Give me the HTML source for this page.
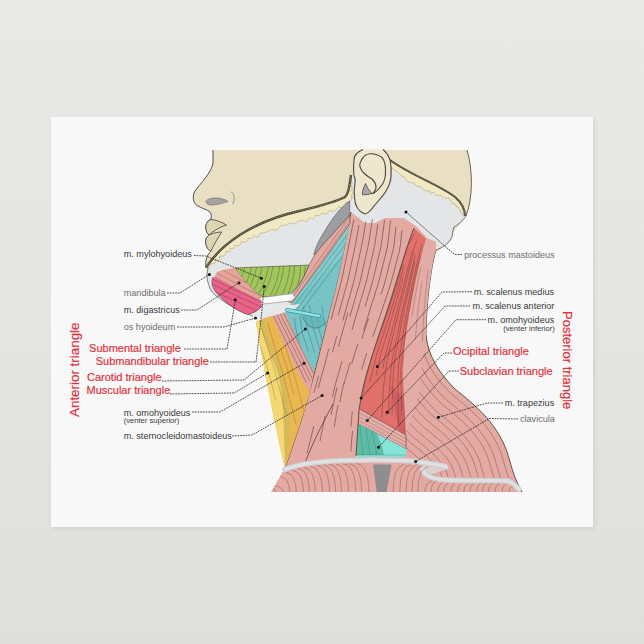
<!DOCTYPE html>
<html><head><meta charset="utf-8">
<style>
html,body{margin:0;padding:0;width:644px;height:644px;overflow:hidden;background:#e3e2df;}
svg{position:absolute;left:0;top:0;}
text{font-family:"Liberation Sans",sans-serif;}
</style></head><body>
<svg width="644" height="644" viewBox="0 0 644 644">
<defs>
<filter id="sh" x="-10%" y="-10%" width="120%" height="120%"><feGaussianBlur stdDeviation="2"/></filter>
<filter id="bl" x="-50%" y="-50%" width="200%" height="200%"><feGaussianBlur stdDeviation="6"/></filter>
</defs>
<linearGradient id="bgg" x1="0" y1="0" x2="0" y2="1"><stop offset="0" stop-color="#e9e9e7"/><stop offset="0.5" stop-color="#e5e5e3"/><stop offset="1" stop-color="#dededc"/></linearGradient><rect width="644" height="644" fill="url(#bgg)"/>

<rect x="52" y="119" width="543" height="410" fill="#c9c8c5" opacity="0.6" filter="url(#sh)"/>
<rect x="51" y="117" width="542" height="410" fill="#f8f8f8"/>

<g stroke-linejoin="round">
<!-- HEAD beige -->
<path d="M213,150 L213,163 C212,172 200,184 195,191 C192,196 193,203 197,205.5 C201,208 207,209.5 210,212 C211.5,214 211.5,217 211,219 C207,221 205,225 206,229 C206,232 208,234 209,235 C205,238 205,243 206.5,246 C207.5,249 209,250.5 211,251 C207,255 205,260 206,267.6 L210,290 L350,300 L440,250 L466,216 C473,198 473,170 467,150 Z" fill="#e9dfc2"/>
<path d="M213,150 L213,163 C212,172 200,184 195,191 C192,196 193,203 197,205.5 C201,208 207,209.5 210,212 C211.5,214 211.5,217 211,219 C207,221 205,225 206,229 C206,232 208,234 209,235 C205,238 205,243 206.5,246 C207.5,249 209,250.5 211,251 C207,255 205,260 206,267.6" fill="none" stroke="#55524a" stroke-width="1"/>
<path d="M467,150 C473,170 473,198 466,216" fill="none" stroke="#55524a" stroke-width="0.9"/>
<!-- lips -->
<path d="M211,219.5 C216,220 222,222 226.4,225 C220,227 213,231 209,235 C208,234 206,232 206,229 C205,225 207,221 211,219.5 Z" fill="#ddd6b2" stroke="#55524a" stroke-width="0.9"/>
<path d="M209,235 C213,233 218,232 221.7,232 C218,238 214,244 211,251 C209,250.5 207.5,249 206.5,246 C205,243 205,238 209,235 Z" fill="#ddd6b2" stroke="#55524a" stroke-width="0.9"/>
<!-- nostril -->
<path d="M206,201.6 C207,198.5 214,197 221,198.5 C225,199.5 228,201 228,201.6 C222,203 218,205 212,205 C208,205 206,203.5 206,201.6 Z" fill="#a3a3a3" stroke="#666" stroke-width="0.6"/>
<path d="M231,191.6 C235,195 235,200 232.6,204" fill="none" stroke="#777" stroke-width="0.7"/>

<!-- gray region below jaw & skull -->
<path d="M206,267.6 C220,246 250,222 299.4,211 C320,206 338,201 345,197 C348,194 349,190 351,175 L356,170 L390,160 C410,175 440,185 455,197 C462,203 465,210 465,216 C462,222 456,226 454,227 C452,232 453,236 451,239 C448,244 442,248 436,250 L420,300 L300,312 L258,318 C240,312 222,302 212,292 C206,282 206,272 209,266 Z" fill="#e3e5e7"/>
<path d="M466,216 C462,222 456,226 454,227 C452,232 453,236 451,239 C448,244 442,248 436,250" fill="none" stroke="#55524a" stroke-width="0.8"/>
<path d="M209,266 C206,272 206,282 212,292 C222,302 240,312 258,318" fill="none" stroke="#666" stroke-width="0.8"/>
<!-- cream bone bands -->
<path d="M206.0,267.6 L206.3,267.2 L206.5,266.8 L206.8,266.4 L207.1,266.0 L207.4,265.6 L207.6,265.2 L207.9,264.8 L208.2,264.3 L208.5,263.9 L208.8,263.5 L209.1,263.1 L209.4,262.7 L209.7,262.3 L210.0,261.9 L210.4,261.5 L210.7,261.1 L211.0,260.7 L211.3,260.2 L211.7,259.8 L212.0,259.4 L212.3,259.0 L212.7,258.6 L213.0,258.2 L213.4,257.8 L213.7,257.4 L214.1,256.9 L214.5,256.5 L214.8,256.1 L215.2,255.7 L215.6,255.3 L216.0,254.9 L216.3,254.5 L216.7,254.1 L217.1,253.7 L217.5,253.2 L217.9,252.8 L218.3,252.4 L218.7,252.0 L219.1,251.6 L219.6,251.2 L220.0,250.8 L220.4,250.4 L220.8,250.0 L221.3,249.6 L221.7,249.1 L222.1,248.7 L222.6,248.3 L223.0,247.9 L223.5,247.5 L223.9,247.1 L224.4,246.7 L224.8,246.3 L225.3,245.9 L225.8,245.5 L226.2,245.1 L226.7,244.7 L227.2,244.3 L227.7,243.9 L228.2,243.5 L228.7,243.1 L229.2,242.7 L229.7,242.3 L230.2,241.9 L230.7,241.5 L231.2,241.1 L231.7,240.7 L232.3,240.3 L232.8,239.9 L233.3,239.6 L233.8,239.2 L234.4,238.8 L234.9,238.4 L235.5,238.0 L236.0,237.6 L236.6,237.2 L237.1,236.8 L237.7,236.5 L238.3,236.1 L238.8,235.7 L239.4,235.3 L240.0,234.9 L240.6,234.6 L241.2,234.2 L241.8,233.8 L242.4,233.5 L243.0,233.1 L243.6,232.7 L244.2,232.3 L244.8,232.0 L245.4,231.6 L246.0,231.2 L246.7,230.9 L247.3,230.5 L247.9,230.2 L248.6,229.8 L249.2,229.5 L249.9,229.1 L250.5,228.7 L251.2,228.4 L251.8,228.0 L252.5,227.7 L253.2,227.4 L253.8,227.0 L254.5,226.7 L255.2,226.3 L255.9,226.0 L256.6,225.7 L257.3,225.3 L258.0,225.0 L258.7,224.7 L259.4,224.3 L260.1,224.0 L260.8,223.7 L261.5,223.3 L262.2,223.0 L263.0,222.7 L263.7,222.4 L264.4,222.1 L265.2,221.8 L265.9,221.4 L266.7,221.1 L267.4,220.8 L268.2,220.5 L269.0,220.2 L269.7,219.9 L270.5,219.6 L271.3,219.3 L272.1,219.0 L272.8,218.7 L273.6,218.5 L274.4,218.2 L275.2,217.9 L276.0,217.6 L276.8,217.3 L277.7,217.0 L278.5,216.8 L279.3,216.5 L280.1,216.2 L280.9,216.0 L281.8,215.7 L282.6,215.4 L283.5,215.2 L284.3,214.9 L285.2,214.7 L286.0,214.4 L286.9,214.2 L287.7,213.9 L288.6,213.7 L289.5,213.4 L290.4,213.2 L291.2,213.0 L292.1,212.7 L293.0,212.5 L293.9,212.3 L294.8,212.1 L295.7,211.8 L296.6,211.6 L297.6,211.4 L298.5,211.2 L299.4,211.0 L301.7,221.5 L300.7,221.2 L299.7,220.8 L298.7,220.5 L298.0,221.4 L297.3,222.2 L296.6,222.9 L295.8,223.4 L295.0,223.7 L294.1,223.9 L293.2,223.8 L292.3,223.6 L291.3,223.3 L290.3,222.9 L289.4,223.0 L288.7,223.6 L287.9,224.1 L287.2,224.6 L286.4,225.0 L285.6,225.2 L284.8,225.4 L284.0,225.5 L283.1,225.5 L282.2,225.5 L281.4,225.4 L280.7,225.9 L280.1,226.8 L279.5,227.5 L278.9,228.2 L278.2,228.8 L277.6,229.3 L276.9,229.7 L276.1,229.9 L275.3,230.0 L274.5,230.1 L273.6,230.0 L272.8,229.9 L271.8,229.7 L270.9,229.4 L270.2,229.6 L269.6,230.2 L268.9,230.7 L268.3,231.1 L267.6,231.5 L267.0,231.9 L266.3,232.2 L265.6,232.4 L264.8,232.6 L264.1,232.7 L263.3,232.8 L262.5,232.9 L261.7,232.9 L260.9,232.9 L260.3,233.3 L260.0,234.3 L259.6,235.2 L259.2,236.0 L258.7,236.5 L258.0,236.8 L257.2,236.8 L256.3,236.6 L255.3,236.2 L254.3,235.7 L253.6,236.1 L253.4,237.0 L253.0,237.8 L252.5,238.3 L251.8,238.5 L251.0,238.5 L250.1,238.2 L249.1,237.9 L248.5,238.3 L248.2,239.0 L247.9,239.8 L247.5,240.4 L247.0,240.9 L246.5,241.4 L245.9,241.7 L245.2,241.9 L244.5,241.9 L243.7,241.9 L242.9,241.9 L242.0,241.7 L241.2,241.6 L241.0,242.4 L240.8,243.3 L240.5,244.1 L240.2,244.7 L239.8,245.2 L239.2,245.5 L238.6,245.7 L237.8,245.7 L237.0,245.6 L236.0,245.4 L235.1,245.2 L234.7,245.8 L234.6,246.5 L234.3,247.2 L234.0,247.8 L233.5,248.2 L233.0,248.4 L232.2,248.5 L231.4,248.5 L230.6,248.3 L229.9,248.5 L230.0,249.6 L230.0,250.5 L229.9,251.2 L229.5,251.6 L228.9,251.8 L228.0,251.8 L227.1,251.5 L226.0,251.2 L225.7,251.8 L225.7,252.6 L225.6,253.3 L225.5,254.0 L225.3,254.6 L225.0,255.1 L224.6,255.5 L224.1,255.8 L223.5,256.0 L222.8,256.1 L222.0,256.1 L221.2,256.0 L220.3,256.0 L219.5,256.0 L219.7,256.9 L219.8,257.7 L219.9,258.5 L219.8,259.2 L219.6,259.7 L219.3,260.1 L218.8,260.4 L218.2,260.5 L217.4,260.5 L216.5,260.5 L215.6,260.4 L214.6,260.2 L214.8,261.0 L215.0,261.8 L215.0,262.5 L214.9,263.1 L214.6,263.5 L214.0,263.7 L213.3,263.8 L212.4,263.7 L211.5,263.6 L211.0,263.9 L210.9,264.5 L210.8,265.0 L210.7,265.5 L210.5,266.0 L210.2,266.4 L209.9,266.7 L209.5,267.0 L209.1,267.3 L208.5,267.6 L208.0,267.8 L207.4,268.0 L206.8,268.1 Z" fill="#f1e9c4"/><path d="M206.8,268.1 L207.4,268.0 L208.0,267.8 L208.5,267.6 L209.1,267.3 L209.5,267.0 L209.9,266.7 L210.2,266.4 L210.5,266.0 L210.7,265.5 L210.8,265.0 L210.9,264.5 L211.0,263.9 L211.5,263.6 L212.4,263.7 L213.3,263.8 L214.0,263.7 L214.6,263.5 L214.9,263.1 L215.0,262.5 L215.0,261.8 L214.8,261.0 L214.6,260.2 L215.6,260.4 L216.5,260.5 L217.4,260.5 L218.2,260.5 L218.8,260.4 L219.3,260.1 L219.6,259.7 L219.8,259.2 L219.9,258.5 L219.8,257.7 L219.7,256.9 L219.5,256.0 L220.3,256.0 L221.2,256.0 L222.0,256.1 L222.8,256.1 L223.5,256.0 L224.1,255.8 L224.6,255.5 L225.0,255.1 L225.3,254.6 L225.5,254.0 L225.6,253.3 L225.7,252.6 L225.7,251.8 L226.0,251.2 L227.1,251.5 L228.0,251.8 L228.9,251.8 L229.5,251.6 L229.9,251.2 L230.0,250.5 L230.0,249.6 L229.9,248.5 L230.6,248.3 L231.4,248.5 L232.2,248.5 L233.0,248.4 L233.5,248.2 L234.0,247.8 L234.3,247.2 L234.6,246.5 L234.7,245.8 L235.1,245.2 L236.0,245.4 L237.0,245.6 L237.8,245.7 L238.6,245.7 L239.2,245.5 L239.8,245.2 L240.2,244.7 L240.5,244.1 L240.8,243.3 L241.0,242.4 L241.2,241.6 L242.0,241.7 L242.9,241.9 L243.7,241.9 L244.5,241.9 L245.2,241.9 L245.9,241.7 L246.5,241.4 L247.0,240.9 L247.5,240.4 L247.9,239.8 L248.2,239.0 L248.5,238.3 L249.1,237.9 L250.1,238.2 L251.0,238.5 L251.8,238.5 L252.5,238.3 L253.0,237.8 L253.4,237.0 L253.6,236.1 L254.3,235.7 L255.3,236.2 L256.3,236.6 L257.2,236.8 L258.0,236.8 L258.7,236.5 L259.2,236.0 L259.6,235.2 L260.0,234.3 L260.3,233.3 L260.9,232.9 L261.7,232.9 L262.5,232.9 L263.3,232.8 L264.1,232.7 L264.8,232.6 L265.6,232.4 L266.3,232.2 L267.0,231.9 L267.6,231.5 L268.3,231.1 L268.9,230.7 L269.6,230.2 L270.2,229.6 L270.9,229.4 L271.8,229.7 L272.8,229.9 L273.6,230.0 L274.5,230.1 L275.3,230.0 L276.1,229.9 L276.9,229.7 L277.6,229.3 L278.2,228.8 L278.9,228.2 L279.5,227.5 L280.1,226.8 L280.7,225.9 L281.4,225.4 L282.2,225.5 L283.1,225.5 L284.0,225.5 L284.8,225.4 L285.6,225.2 L286.4,225.0 L287.2,224.6 L287.9,224.1 L288.7,223.6 L289.4,223.0 L290.3,222.9 L291.3,223.3 L292.3,223.6 L293.2,223.8 L294.1,223.9 L295.0,223.7 L295.8,223.4 L296.6,222.9 L297.3,222.2 L298.0,221.4 L298.7,220.5 L299.7,220.8 L300.7,221.2 L301.7,221.5" fill="none" stroke="#a99f62" stroke-width="0.55"/><path d="M299.4,211.0 L299.8,210.9 L300.2,210.8 L300.6,210.7 L300.9,210.6 L301.3,210.5 L301.7,210.4 L302.1,210.3 L302.5,210.3 L302.9,210.2 L303.2,210.1 L303.6,210.0 L304.0,209.9 L304.4,209.8 L304.7,209.7 L305.1,209.6 L305.5,209.5 L305.9,209.4 L306.2,209.3 L306.6,209.2 L307.0,209.1 L307.4,209.0 L307.7,208.9 L308.1,208.8 L308.5,208.8 L308.8,208.7 L309.2,208.6 L309.6,208.5 L309.9,208.4 L310.3,208.3 L310.7,208.2 L311.0,208.1 L311.4,208.0 L311.7,207.9 L312.1,207.8 L312.5,207.7 L312.8,207.6 L313.2,207.5 L313.5,207.5 L313.9,207.4 L314.2,207.3 L314.6,207.2 L314.9,207.1 L315.3,207.0 L315.6,206.9 L316.0,206.8 L316.3,206.7 L316.7,206.6 L317.0,206.5 L317.4,206.4 L317.7,206.3 L318.0,206.3 L318.4,206.2 L318.7,206.1 L319.0,206.0 L319.4,205.9 L319.7,205.8 L320.0,205.7 L320.4,205.6 L320.7,205.5 L321.0,205.4 L321.4,205.3 L321.7,205.2 L322.0,205.2 L322.3,205.1 L322.7,205.0 L323.0,204.9 L323.3,204.8 L323.6,204.7 L323.9,204.6 L324.2,204.5 L324.6,204.4 L324.9,204.3 L325.2,204.3 L325.5,204.2 L325.8,204.1 L326.1,204.0 L326.4,203.9 L326.7,203.8 L327.0,203.7 L327.3,203.6 L327.6,203.5 L327.9,203.4 L328.2,203.4 L328.5,203.3 L328.8,203.2 L329.1,203.1 L329.3,203.0 L329.6,202.9 L329.9,202.8 L330.2,202.7 L330.5,202.7 L330.8,202.6 L331.0,202.5 L331.3,202.4 L331.6,202.3 L331.9,202.2 L332.1,202.1 L332.4,202.0 L332.7,202.0 L332.9,201.9 L333.2,201.8 L333.5,201.7 L333.7,201.6 L334.0,201.5 L334.2,201.4 L334.5,201.4 L334.7,201.3 L335.0,201.2 L335.2,201.1 L335.5,201.0 L335.7,200.9 L336.0,200.8 L336.2,200.8 L336.4,200.7 L336.7,200.6 L336.9,200.5 L337.1,200.4 L337.4,200.3 L337.6,200.3 L337.8,200.2 L338.0,200.1 L338.3,200.0 L338.5,199.9 L338.7,199.8 L338.9,199.8 L339.1,199.7 L339.3,199.6 L339.5,199.5 L339.8,199.4 L340.0,199.3 L340.2,199.3 L340.4,199.2 L340.6,199.1 L340.8,199.0 L340.9,198.9 L341.1,198.9 L341.3,198.8 L341.5,198.7 L341.7,198.6 L341.9,198.5 L342.1,198.5 L342.2,198.4 L342.4,198.3 L342.6,198.2 L342.7,198.2 L342.9,198.1 L343.1,198.0 L343.2,197.9 L343.4,197.8 L343.6,197.8 L343.7,197.7 L343.9,197.6 L344.0,197.5 L344.2,197.5 L344.3,197.4 L344.5,197.3 L344.6,197.2 L344.7,197.2 L344.9,197.1 L345.0,197.0 L348.0,202.2 L347.7,202.2 L347.5,202.2 L347.3,202.2 L347.1,202.2 L346.9,202.2 L346.6,202.2 L346.4,202.2 L346.3,202.3 L346.2,202.6 L346.1,202.9 L346.0,203.2 L345.9,203.5 L345.8,203.8 L345.7,204.0 L345.6,204.3 L345.5,204.6 L345.4,204.9 L345.3,205.1 L345.1,205.4 L345.0,205.6 L344.9,205.9 L344.7,206.1 L344.5,206.3 L344.4,206.5 L344.2,206.7 L344.0,206.9 L343.8,207.0 L343.6,207.2 L343.4,207.3 L343.2,207.4 L343.0,207.5 L342.7,207.6 L342.5,207.6 L342.2,207.6 L342.0,207.7 L341.7,207.6 L341.4,207.6 L341.1,207.6 L340.8,207.5 L340.5,207.4 L340.2,207.3 L339.9,207.2 L339.6,207.1 L339.2,207.0 L338.9,206.8 L338.6,206.7 L338.3,206.6 L338.1,206.9 L337.9,207.2 L337.7,207.5 L337.5,207.8 L337.4,208.1 L337.2,208.4 L337.0,208.7 L336.8,209.0 L336.6,209.2 L336.3,209.5 L336.1,209.7 L335.9,210.0 L335.6,210.2 L335.4,210.3 L335.1,210.5 L334.9,210.7 L334.6,210.8 L334.3,210.9 L334.0,211.0 L333.7,211.0 L333.4,211.1 L333.1,211.1 L332.8,211.1 L332.5,211.1 L332.1,211.0 L331.8,211.0 L331.5,210.9 L331.1,210.8 L330.7,210.7 L330.4,210.6 L330.0,210.5 L329.7,210.4 L329.3,210.4 L329.1,210.8 L328.9,211.1 L328.6,211.5 L328.4,211.8 L328.2,212.1 L327.9,212.5 L327.6,212.7 L327.4,213.0 L327.1,213.2 L326.8,213.4 L326.5,213.6 L326.2,213.7 L325.9,213.8 L325.5,213.9 L325.2,213.9 L324.8,213.9 L324.5,213.8 L324.1,213.8 L323.7,213.7 L323.3,213.6 L322.9,213.4 L322.5,213.3 L322.1,213.1 L321.8,213.3 L321.5,213.6 L321.2,214.0 L320.9,214.3 L320.7,214.6 L320.4,214.9 L320.1,215.1 L319.7,215.3 L319.4,215.5 L319.1,215.6 L318.7,215.6 L318.3,215.7 L318.0,215.7 L317.6,215.6 L317.2,215.5 L316.8,215.4 L316.4,215.3 L315.9,215.2 L315.6,215.5 L315.4,216.1 L315.1,216.6 L314.9,217.1 L314.6,217.5 L314.3,217.9 L314.0,218.2 L313.7,218.5 L313.4,218.7 L313.0,218.8 L312.6,218.8 L312.2,218.8 L311.8,218.7 L311.3,218.5 L310.9,218.3 L310.4,218.0 L310.0,217.7 L309.5,217.4 L309.1,217.6 L308.9,218.2 L308.6,218.7 L308.3,219.2 L308.0,219.7 L307.7,220.1 L307.4,220.5 L307.1,220.8 L306.8,221.1 L306.4,221.3 L306.0,221.5 L305.7,221.5 L305.2,221.5 L304.8,221.5 L304.4,221.4 L303.9,221.2 L303.5,221.0 L303.0,220.7 L302.5,220.4 L302.0,220.1 L301.5,219.7 Z" fill="#f1e9c4"/><path d="M301.5,219.7 L302.0,220.1 L302.5,220.4 L303.0,220.7 L303.5,221.0 L303.9,221.2 L304.4,221.4 L304.8,221.5 L305.2,221.5 L305.7,221.5 L306.0,221.5 L306.4,221.3 L306.8,221.1 L307.1,220.8 L307.4,220.5 L307.7,220.1 L308.0,219.7 L308.3,219.2 L308.6,218.7 L308.9,218.2 L309.1,217.6 L309.5,217.4 L310.0,217.7 L310.4,218.0 L310.9,218.3 L311.3,218.5 L311.8,218.7 L312.2,218.8 L312.6,218.8 L313.0,218.8 L313.4,218.7 L313.7,218.5 L314.0,218.2 L314.3,217.9 L314.6,217.5 L314.9,217.1 L315.1,216.6 L315.4,216.1 L315.6,215.5 L315.9,215.2 L316.4,215.3 L316.8,215.4 L317.2,215.5 L317.6,215.6 L318.0,215.7 L318.3,215.7 L318.7,215.6 L319.1,215.6 L319.4,215.5 L319.7,215.3 L320.1,215.1 L320.4,214.9 L320.7,214.6 L320.9,214.3 L321.2,214.0 L321.5,213.6 L321.8,213.3 L322.1,213.1 L322.5,213.3 L322.9,213.4 L323.3,213.6 L323.7,213.7 L324.1,213.8 L324.5,213.8 L324.8,213.9 L325.2,213.9 L325.5,213.9 L325.9,213.8 L326.2,213.7 L326.5,213.6 L326.8,213.4 L327.1,213.2 L327.4,213.0 L327.6,212.7 L327.9,212.5 L328.2,212.1 L328.4,211.8 L328.6,211.5 L328.9,211.1 L329.1,210.8 L329.3,210.4 L329.7,210.4 L330.0,210.5 L330.4,210.6 L330.7,210.7 L331.1,210.8 L331.5,210.9 L331.8,211.0 L332.1,211.0 L332.5,211.1 L332.8,211.1 L333.1,211.1 L333.4,211.1 L333.7,211.0 L334.0,211.0 L334.3,210.9 L334.6,210.8 L334.9,210.7 L335.1,210.5 L335.4,210.3 L335.6,210.2 L335.9,210.0 L336.1,209.7 L336.3,209.5 L336.6,209.2 L336.8,209.0 L337.0,208.7 L337.2,208.4 L337.4,208.1 L337.5,207.8 L337.7,207.5 L337.9,207.2 L338.1,206.9 L338.3,206.6 L338.6,206.7 L338.9,206.8 L339.2,207.0 L339.6,207.1 L339.9,207.2 L340.2,207.3 L340.5,207.4 L340.8,207.5 L341.1,207.6 L341.4,207.6 L341.7,207.6 L342.0,207.7 L342.2,207.6 L342.5,207.6 L342.7,207.6 L343.0,207.5 L343.2,207.4 L343.4,207.3 L343.6,207.2 L343.8,207.0 L344.0,206.9 L344.2,206.7 L344.4,206.5 L344.5,206.3 L344.7,206.1 L344.9,205.9 L345.0,205.6 L345.1,205.4 L345.3,205.1 L345.4,204.9 L345.5,204.6 L345.6,204.3 L345.7,204.0 L345.8,203.8 L345.9,203.5 L346.0,203.2 L346.1,202.9 L346.2,202.6 L346.3,202.3 L346.4,202.2 L346.6,202.2 L346.9,202.2 L347.1,202.2 L347.3,202.2 L347.5,202.2 L347.7,202.2 L348.0,202.2" fill="none" stroke="#a99f62" stroke-width="0.55"/><path d="M345.0,197.0 L345.1,196.9 L345.1,196.9 L345.2,196.8 L345.2,196.8 L345.3,196.7 L345.3,196.7 L345.4,196.6 L345.4,196.5 L345.5,196.5 L345.5,196.4 L345.6,196.4 L345.6,196.3 L345.7,196.2 L345.7,196.2 L345.8,196.1 L345.8,196.1 L345.9,196.0 L345.9,195.9 L346.0,195.9 L346.0,195.8 L346.1,195.8 L346.1,195.7 L346.2,195.6 L346.2,195.6 L346.3,195.5 L346.3,195.4 L346.4,195.4 L346.4,195.3 L346.4,195.2 L346.5,195.2 L346.5,195.1 L346.6,195.0 L346.6,195.0 L346.7,194.9 L346.7,194.8 L346.7,194.8 L346.8,194.7 L346.8,194.6 L346.9,194.6 L346.9,194.5 L346.9,194.4 L347.0,194.3 L347.0,194.3 L347.1,194.2 L347.1,194.1 L347.1,194.0 L347.2,194.0 L347.2,193.9 L347.3,193.8 L347.3,193.7 L347.3,193.7 L347.4,193.6 L347.4,193.5 L347.4,193.4 L347.5,193.3 L347.5,193.3 L347.5,193.2 L347.6,193.1 L347.6,193.0 L347.6,192.9 L347.7,192.9 L347.7,192.8 L347.7,192.7 L347.8,192.6 L347.8,192.5 L347.8,192.4 L347.9,192.3 L347.9,192.2 L347.9,192.2 L348.0,192.1 L348.0,192.0 L348.0,191.9 L348.0,191.8 L348.1,191.7 L348.1,191.6 L348.1,191.5 L348.2,191.4 L348.2,191.3 L348.2,191.2 L348.2,191.1 L348.3,191.0 L348.3,190.9 L348.3,190.8 L348.4,190.7 L348.4,190.6 L348.4,190.5 L348.4,190.4 L348.5,190.3 L348.5,190.2 L348.5,190.1 L348.5,190.0 L348.6,189.9 L348.6,189.8 L348.6,189.7 L348.6,189.6 L348.7,189.4 L348.7,189.3 L348.7,189.2 L348.7,189.1 L348.8,189.0 L348.8,188.9 L348.8,188.7 L348.8,188.6 L348.9,188.5 L348.9,188.4 L348.9,188.3 L348.9,188.1 L349.0,188.0 L349.0,187.9 L349.0,187.8 L349.0,187.6 L349.0,187.5 L349.1,187.4 L349.1,187.3 L349.1,187.1 L349.1,187.0 L349.2,186.9 L349.2,186.7 L349.2,186.6 L349.2,186.5 L349.2,186.3 L349.3,186.2 L349.3,186.0 L349.3,185.9 L349.3,185.8 L349.3,185.6 L349.4,185.5 L349.4,185.3 L349.4,185.2 L349.4,185.0 L349.4,184.9 L349.5,184.7 L349.5,184.6 L349.5,184.4 L349.5,184.3 L349.5,184.1 L349.6,184.0 L349.6,183.8 L349.6,183.6 L349.6,183.5 L349.6,183.3 L349.7,183.2 L349.7,183.0 L349.7,182.8 L349.7,182.7 L349.7,182.5 L349.8,182.3 L349.8,182.2 L349.8,182.0 L349.8,181.8 L349.8,181.6 L349.8,181.5 L349.9,181.3 L349.9,181.1 L349.9,180.9 L349.9,180.7 L349.9,180.6 L350.0,180.4 L350.0,180.2 L350.0,180.0 L351.5,180.1 L351.3,180.3 L351.2,180.5 L351.1,180.7 L351.1,180.9 L351.2,181.1 L351.4,181.3 L351.5,181.4 L351.6,181.6 L351.7,181.8 L351.8,182.0 L351.8,182.2 L351.9,182.4 L352.0,182.6 L352.0,182.7 L352.1,182.9 L352.1,183.1 L352.1,183.3 L352.1,183.4 L352.1,183.6 L352.1,183.8 L352.0,183.9 L352.0,184.1 L352.0,184.3 L351.9,184.4 L351.9,184.6 L351.8,184.7 L351.7,184.9 L351.6,185.0 L351.6,185.2 L351.5,185.3 L351.4,185.4 L351.4,185.6 L351.4,185.8 L351.5,185.9 L351.6,186.1 L351.6,186.2 L351.7,186.4 L351.7,186.5 L351.8,186.7 L351.8,186.9 L351.9,187.0 L351.9,187.2 L352.0,187.3 L352.0,187.5 L352.0,187.6 L352.0,187.8 L352.1,187.9 L352.1,188.0 L352.1,188.2 L352.1,188.3 L352.1,188.5 L352.1,188.6 L352.1,188.7 L352.1,188.9 L352.1,189.0 L352.1,189.1 L352.1,189.3 L352.0,189.4 L352.0,189.5 L352.0,189.6 L352.0,189.8 L351.9,189.9 L351.9,190.0 L351.9,190.1 L351.8,190.3 L351.8,190.4 L351.8,190.5 L351.7,190.6 L351.7,190.7 L351.7,190.9 L351.6,191.0 L351.7,191.1 L351.9,191.3 L352.0,191.4 L352.1,191.6 L352.2,191.7 L352.3,191.9 L352.4,192.1 L352.5,192.2 L352.5,192.4 L352.6,192.5 L352.7,192.6 L352.7,192.8 L352.8,192.9 L352.8,193.1 L352.8,193.2 L352.8,193.3 L352.8,193.4 L352.8,193.6 L352.8,193.7 L352.7,193.8 L352.7,193.9 L352.6,194.0 L352.6,194.1 L352.5,194.2 L352.4,194.3 L352.3,194.4 L352.3,194.5 L352.2,194.6 L352.1,194.7 L352.0,194.8 L351.9,194.9 L351.8,195.0 L351.6,195.0 L351.5,195.1 L351.4,195.2 L351.4,195.3 L351.4,195.5 L351.5,195.6 L351.5,195.8 L351.6,195.9 L351.6,196.1 L351.7,196.2 L351.7,196.4 L351.7,196.5 L351.8,196.6 L351.8,196.8 L351.8,196.9 L351.8,197.1 L351.8,197.2 L351.9,197.4 L351.9,197.5 L351.9,197.7 L351.9,197.8 L351.9,197.9 L351.8,198.1 L351.8,198.2 L351.8,198.3 L351.8,198.5 L351.7,198.6 L351.7,198.7 L351.7,198.9 L351.6,199.0 L351.6,199.1 L351.5,199.2 L351.5,199.3 L351.4,199.4 L351.3,199.5 L351.3,199.6 L351.2,199.8 L351.1,199.9 L351.1,199.9 L351.0,200.0 L350.9,200.1 L350.8,200.2 L350.7,200.3 L350.6,200.4 L350.5,200.5 L350.4,200.5 L350.3,200.6 L350.2,200.7 L350.1,200.8 L350.0,200.8 L349.9,200.9 L349.8,201.0 L349.7,201.0 L349.6,201.1 L349.5,201.1 L349.4,201.2 L349.2,201.2 Z" fill="#f1e9c4"/><path d="M349.2,201.2 L349.4,201.2 L349.5,201.1 L349.6,201.1 L349.7,201.0 L349.8,201.0 L349.9,200.9 L350.0,200.8 L350.1,200.8 L350.2,200.7 L350.3,200.6 L350.4,200.5 L350.5,200.5 L350.6,200.4 L350.7,200.3 L350.8,200.2 L350.9,200.1 L351.0,200.0 L351.1,199.9 L351.1,199.9 L351.2,199.8 L351.3,199.6 L351.3,199.5 L351.4,199.4 L351.5,199.3 L351.5,199.2 L351.6,199.1 L351.6,199.0 L351.7,198.9 L351.7,198.7 L351.7,198.6 L351.8,198.5 L351.8,198.3 L351.8,198.2 L351.8,198.1 L351.9,197.9 L351.9,197.8 L351.9,197.7 L351.9,197.5 L351.9,197.4 L351.8,197.2 L351.8,197.1 L351.8,196.9 L351.8,196.8 L351.8,196.6 L351.7,196.5 L351.7,196.4 L351.7,196.2 L351.6,196.1 L351.6,195.9 L351.5,195.8 L351.5,195.6 L351.4,195.5 L351.4,195.3 L351.4,195.2 L351.5,195.1 L351.6,195.0 L351.8,195.0 L351.9,194.9 L352.0,194.8 L352.1,194.7 L352.2,194.6 L352.3,194.5 L352.3,194.4 L352.4,194.3 L352.5,194.2 L352.6,194.1 L352.6,194.0 L352.7,193.9 L352.7,193.8 L352.8,193.7 L352.8,193.6 L352.8,193.4 L352.8,193.3 L352.8,193.2 L352.8,193.1 L352.8,192.9 L352.7,192.8 L352.7,192.6 L352.6,192.5 L352.5,192.4 L352.5,192.2 L352.4,192.1 L352.3,191.9 L352.2,191.7 L352.1,191.6 L352.0,191.4 L351.9,191.3 L351.7,191.1 L351.6,191.0 L351.7,190.9 L351.7,190.7 L351.7,190.6 L351.8,190.5 L351.8,190.4 L351.8,190.3 L351.9,190.1 L351.9,190.0 L351.9,189.9 L352.0,189.8 L352.0,189.6 L352.0,189.5 L352.0,189.4 L352.1,189.3 L352.1,189.1 L352.1,189.0 L352.1,188.9 L352.1,188.7 L352.1,188.6 L352.1,188.5 L352.1,188.3 L352.1,188.2 L352.1,188.0 L352.1,187.9 L352.0,187.8 L352.0,187.6 L352.0,187.5 L352.0,187.3 L351.9,187.2 L351.9,187.0 L351.8,186.9 L351.8,186.7 L351.7,186.5 L351.7,186.4 L351.6,186.2 L351.6,186.1 L351.5,185.9 L351.4,185.8 L351.4,185.6 L351.4,185.4 L351.5,185.3 L351.6,185.2 L351.6,185.0 L351.7,184.9 L351.8,184.7 L351.9,184.6 L351.9,184.4 L352.0,184.3 L352.0,184.1 L352.0,183.9 L352.1,183.8 L352.1,183.6 L352.1,183.4 L352.1,183.3 L352.1,183.1 L352.1,182.9 L352.0,182.7 L352.0,182.6 L351.9,182.4 L351.8,182.2 L351.8,182.0 L351.7,181.8 L351.6,181.6 L351.5,181.4 L351.4,181.3 L351.2,181.1 L351.1,180.9 L351.1,180.7 L351.2,180.5 L351.3,180.3 L351.5,180.1" fill="none" stroke="#a99f62" stroke-width="0.55"/><path d="M392.0,162.0 L392.4,162.3 L392.8,162.6 L393.1,162.8 L393.5,163.1 L393.9,163.4 L394.3,163.7 L394.7,163.9 L395.1,164.2 L395.4,164.5 L395.8,164.7 L396.2,165.0 L396.6,165.3 L397.0,165.5 L397.4,165.8 L397.8,166.1 L398.2,166.3 L398.6,166.6 L399.0,166.8 L399.4,167.1 L399.8,167.4 L400.2,167.6 L400.6,167.9 L401.1,168.1 L401.5,168.4 L401.9,168.6 L402.3,168.9 L402.7,169.1 L403.1,169.4 L403.5,169.6 L404.0,169.9 L404.4,170.1 L404.8,170.3 L405.2,170.6 L405.6,170.8 L406.1,171.1 L406.5,171.3 L406.9,171.5 L407.3,171.8 L407.7,172.0 L408.2,172.2 L408.6,172.5 L409.0,172.7 L409.5,172.9 L409.9,173.2 L410.3,173.4 L410.7,173.6 L411.2,173.9 L411.6,174.1 L412.0,174.3 L412.5,174.5 L412.9,174.8 L413.3,175.0 L413.7,175.2 L414.2,175.4 L414.6,175.7 L415.0,175.9 L415.5,176.1 L415.9,176.3 L416.3,176.5 L416.8,176.8 L417.2,177.0 L417.6,177.2 L418.1,177.4 L418.5,177.6 L418.9,177.8 L419.4,178.1 L419.8,178.3 L420.2,178.5 L420.7,178.7 L421.1,178.9 L421.5,179.1 L421.9,179.3 L422.4,179.5 L422.8,179.8 L423.2,180.0 L423.7,180.2 L424.1,180.4 L424.5,180.6 L424.9,180.8 L425.4,181.0 L425.8,181.2 L426.2,181.4 L426.7,181.6 L427.1,181.8 L427.5,182.0 L427.9,182.2 L428.3,182.4 L428.8,182.6 L429.2,182.8 L429.6,183.0 L430.0,183.2 L430.4,183.4 L430.9,183.6 L431.3,183.8 L431.7,184.0 L432.1,184.2 L432.5,184.4 L432.9,184.6 L433.3,184.8 L433.7,185.0 L434.2,185.2 L434.6,185.4 L435.0,185.6 L435.4,185.8 L435.8,186.0 L436.2,186.2 L436.6,186.4 L437.0,186.6 L437.4,186.8 L437.8,187.0 L438.2,187.2 L438.6,187.4 L438.9,187.6 L439.3,187.8 L439.7,188.0 L440.1,188.2 L440.5,188.4 L440.9,188.6 L441.3,188.8 L441.6,189.0 L442.0,189.2 L442.4,189.4 L442.8,189.6 L443.1,189.8 L443.5,190.0 L443.9,190.2 L444.2,190.4 L444.6,190.6 L445.0,190.8 L445.3,191.0 L445.7,191.2 L446.0,191.4 L446.4,191.6 L446.7,191.8 L447.1,192.0 L447.4,192.2 L447.8,192.4 L448.1,192.6 L448.5,192.8 L448.8,193.0 L449.1,193.2 L449.5,193.4 L449.8,193.6 L450.1,193.8 L450.5,194.0 L450.8,194.2 L451.1,194.4 L451.4,194.6 L451.7,194.8 L452.0,195.0 L452.3,195.2 L452.7,195.4 L453.0,195.6 L453.3,195.8 L453.6,196.0 L453.9,196.2 L454.1,196.4 L454.4,196.6 L454.7,196.8 L455.0,197.0 L453.2,199.4 L452.6,199.7 L452.0,200.0 L451.5,200.2 L450.9,200.3 L450.5,200.4 L450.1,200.4 L449.8,200.2 L449.6,200.0 L449.4,199.6 L449.3,199.2 L449.2,198.6 L449.2,198.1 L448.9,197.8 L448.4,197.9 L448.0,197.9 L447.5,198.0 L447.1,198.0 L446.7,198.0 L446.2,198.0 L445.8,198.0 L445.4,198.0 L445.0,197.9 L444.6,197.8 L444.3,197.7 L443.9,197.5 L443.6,197.4 L443.2,197.2 L442.9,197.0 L442.6,196.7 L442.3,196.5 L442.0,196.2 L441.7,195.9 L441.5,195.5 L441.2,195.2 L440.9,194.9 L440.4,195.0 L439.8,195.1 L439.3,195.3 L438.8,195.4 L438.3,195.4 L437.8,195.5 L437.4,195.4 L436.9,195.4 L436.5,195.3 L436.1,195.1 L435.7,194.9 L435.4,194.7 L435.1,194.4 L434.8,194.0 L434.5,193.6 L434.2,193.2 L433.9,192.8 L433.7,192.3 L433.1,192.4 L432.4,192.8 L431.8,193.2 L431.2,193.4 L430.7,193.4 L430.2,193.3 L429.9,192.9 L429.7,192.4 L429.5,191.8 L429.3,191.0 L429.1,190.4 L428.6,190.5 L428.0,190.6 L427.5,190.7 L426.9,190.7 L426.4,190.7 L425.9,190.7 L425.4,190.6 L425.0,190.5 L424.5,190.4 L424.1,190.2 L423.7,190.0 L423.3,189.7 L422.9,189.4 L422.5,189.0 L422.2,188.6 L421.9,188.2 L421.6,187.8 L421.3,187.3 L421.0,186.8 L420.6,186.5 L420.0,186.5 L419.5,186.5 L419.0,186.5 L418.5,186.4 L418.0,186.3 L417.5,186.2 L417.0,186.1 L416.6,185.8 L416.2,185.6 L415.8,185.3 L415.4,185.0 L415.0,184.6 L414.7,184.2 L414.3,183.8 L414.0,183.4 L413.7,182.9 L413.3,182.6 L412.7,182.6 L412.2,182.6 L411.6,182.6 L411.1,182.5 L410.6,182.5 L410.0,182.4 L409.5,182.3 L409.1,182.1 L408.6,181.9 L408.2,181.7 L407.7,181.4 L407.3,181.1 L406.9,180.7 L406.6,180.3 L406.2,179.9 L405.9,179.4 L405.6,179.0 L405.3,178.5 L405.0,177.9 L404.8,177.4 L404.5,176.8 L404.0,176.6 L403.5,176.5 L403.0,176.4 L402.5,176.3 L402.0,176.1 L401.6,175.9 L401.1,175.7 L400.7,175.4 L400.3,175.1 L400.0,174.7 L399.6,174.3 L399.3,173.9 L399.0,173.4 L398.7,172.9 L398.4,172.4 L398.1,171.9 L397.7,171.6 L397.2,171.5 L396.7,171.3 L396.3,171.2 L395.8,171.0 L395.3,170.8 L394.9,170.6 L394.4,170.3 L394.0,170.0 L393.6,169.7 L393.3,169.4 L392.9,169.1 L392.6,168.7 L392.2,168.3 L391.9,167.8 L391.6,167.4 L391.4,166.9 L391.1,166.4 L390.9,165.9 L390.6,165.4 L390.4,164.9 L390.2,164.4 Z" fill="#f1e9c4"/><path d="M390.2,164.4 L390.4,164.9 L390.6,165.4 L390.9,165.9 L391.1,166.4 L391.4,166.9 L391.6,167.4 L391.9,167.8 L392.2,168.3 L392.6,168.7 L392.9,169.1 L393.3,169.4 L393.6,169.7 L394.0,170.0 L394.4,170.3 L394.9,170.6 L395.3,170.8 L395.8,171.0 L396.3,171.2 L396.7,171.3 L397.2,171.5 L397.7,171.6 L398.1,171.9 L398.4,172.4 L398.7,172.9 L399.0,173.4 L399.3,173.9 L399.6,174.3 L400.0,174.7 L400.3,175.1 L400.7,175.4 L401.1,175.7 L401.6,175.9 L402.0,176.1 L402.5,176.3 L403.0,176.4 L403.5,176.5 L404.0,176.6 L404.5,176.8 L404.8,177.4 L405.0,177.9 L405.3,178.5 L405.6,179.0 L405.9,179.4 L406.2,179.9 L406.6,180.3 L406.9,180.7 L407.3,181.1 L407.7,181.4 L408.2,181.7 L408.6,181.9 L409.1,182.1 L409.5,182.3 L410.0,182.4 L410.6,182.5 L411.1,182.5 L411.6,182.6 L412.2,182.6 L412.7,182.6 L413.3,182.6 L413.7,182.9 L414.0,183.4 L414.3,183.8 L414.7,184.2 L415.0,184.6 L415.4,185.0 L415.8,185.3 L416.2,185.6 L416.6,185.8 L417.0,186.1 L417.5,186.2 L418.0,186.3 L418.5,186.4 L419.0,186.5 L419.5,186.5 L420.0,186.5 L420.6,186.5 L421.0,186.8 L421.3,187.3 L421.6,187.8 L421.9,188.2 L422.2,188.6 L422.5,189.0 L422.9,189.4 L423.3,189.7 L423.7,190.0 L424.1,190.2 L424.5,190.4 L425.0,190.5 L425.4,190.6 L425.9,190.7 L426.4,190.7 L426.9,190.7 L427.5,190.7 L428.0,190.6 L428.6,190.5 L429.1,190.4 L429.3,191.0 L429.5,191.8 L429.7,192.4 L429.9,192.9 L430.2,193.3 L430.7,193.4 L431.2,193.4 L431.8,193.2 L432.4,192.8 L433.1,192.4 L433.7,192.3 L433.9,192.8 L434.2,193.2 L434.5,193.6 L434.8,194.0 L435.1,194.4 L435.4,194.7 L435.7,194.9 L436.1,195.1 L436.5,195.3 L436.9,195.4 L437.4,195.4 L437.8,195.5 L438.3,195.4 L438.8,195.4 L439.3,195.3 L439.8,195.1 L440.4,195.0 L440.9,194.9 L441.2,195.2 L441.5,195.5 L441.7,195.9 L442.0,196.2 L442.3,196.5 L442.6,196.7 L442.9,197.0 L443.2,197.2 L443.6,197.4 L443.9,197.5 L444.3,197.7 L444.6,197.8 L445.0,197.9 L445.4,198.0 L445.8,198.0 L446.2,198.0 L446.7,198.0 L447.1,198.0 L447.5,198.0 L448.0,197.9 L448.4,197.9 L448.9,197.8 L449.2,198.1 L449.2,198.6 L449.3,199.2 L449.4,199.6 L449.6,200.0 L449.8,200.2 L450.1,200.4 L450.5,200.4 L450.9,200.3 L451.5,200.2 L452.0,200.0 L452.6,199.7 L453.2,199.4" fill="none" stroke="#a99f62" stroke-width="0.55"/><path d="M455.0,197.0 L455.1,197.1 L455.2,197.2 L455.3,197.3 L455.4,197.4 L455.6,197.5 L455.7,197.6 L455.8,197.7 L455.9,197.8 L456.0,197.9 L456.1,198.0 L456.2,198.1 L456.3,198.2 L456.4,198.3 L456.5,198.4 L456.6,198.5 L456.7,198.6 L456.8,198.7 L456.9,198.8 L457.0,198.9 L457.1,199.0 L457.2,199.1 L457.3,199.2 L457.4,199.3 L457.5,199.4 L457.6,199.5 L457.7,199.6 L457.8,199.7 L457.9,199.8 L458.0,199.9 L458.1,200.0 L458.2,200.1 L458.2,200.2 L458.3,200.3 L458.4,200.4 L458.5,200.5 L458.6,200.7 L458.7,200.8 L458.8,200.9 L458.9,201.0 L459.0,201.1 L459.0,201.2 L459.1,201.3 L459.2,201.4 L459.3,201.5 L459.4,201.6 L459.5,201.8 L459.5,201.9 L459.6,202.0 L459.7,202.1 L459.8,202.2 L459.9,202.3 L459.9,202.4 L460.0,202.6 L460.1,202.7 L460.2,202.8 L460.2,202.9 L460.3,203.0 L460.4,203.1 L460.5,203.2 L460.5,203.4 L460.6,203.5 L460.7,203.6 L460.8,203.7 L460.8,203.8 L460.9,203.9 L461.0,204.1 L461.0,204.2 L461.1,204.3 L461.2,204.4 L461.2,204.5 L461.3,204.7 L461.4,204.8 L461.4,204.9 L461.5,205.0 L461.6,205.1 L461.6,205.3 L461.7,205.4 L461.8,205.5 L461.8,205.6 L461.9,205.8 L461.9,205.9 L462.0,206.0 L462.1,206.1 L462.1,206.2 L462.2,206.4 L462.2,206.5 L462.3,206.6 L462.3,206.7 L462.4,206.9 L462.5,207.0 L462.5,207.1 L462.6,207.2 L462.6,207.4 L462.7,207.5 L462.7,207.6 L462.8,207.7 L462.8,207.9 L462.9,208.0 L462.9,208.1 L463.0,208.2 L463.0,208.4 L463.1,208.5 L463.1,208.6 L463.2,208.7 L463.2,208.9 L463.3,209.0 L463.3,209.1 L463.4,209.2 L463.4,209.4 L463.4,209.5 L463.5,209.6 L463.5,209.8 L463.6,209.9 L463.6,210.0 L463.7,210.1 L463.7,210.3 L463.7,210.4 L463.8,210.5 L463.8,210.7 L463.9,210.8 L463.9,210.9 L463.9,211.0 L464.0,211.2 L464.0,211.3 L464.0,211.4 L464.1,211.6 L464.1,211.7 L464.2,211.8 L464.2,211.9 L464.2,212.1 L464.3,212.2 L464.3,212.3 L464.3,212.5 L464.3,212.6 L464.4,212.7 L464.4,212.9 L464.4,213.0 L464.5,213.1 L464.5,213.2 L464.5,213.4 L464.6,213.5 L464.6,213.6 L464.6,213.8 L464.6,213.9 L464.7,214.0 L464.7,214.2 L464.7,214.3 L464.7,214.4 L464.8,214.6 L464.8,214.7 L464.8,214.8 L464.8,215.0 L464.9,215.1 L464.9,215.2 L464.9,215.3 L464.9,215.5 L464.9,215.6 L465.0,215.7 L465.0,215.9 L465.0,216.0 L462.9,216.3 L462.8,216.2 L462.8,216.1 L462.7,215.9 L462.7,215.8 L462.7,215.7 L462.7,215.6 L462.7,215.4 L462.7,215.3 L462.7,215.2 L462.7,215.1 L462.7,214.9 L462.8,214.8 L462.8,214.7 L462.8,214.5 L462.9,214.4 L462.9,214.3 L462.9,214.1 L463.0,214.0 L463.0,213.8 L462.8,213.8 L462.6,213.7 L462.4,213.6 L462.2,213.5 L462.1,213.4 L461.9,213.3 L461.8,213.2 L461.6,213.1 L461.5,213.0 L461.4,212.9 L461.3,212.8 L461.2,212.7 L461.1,212.6 L461.0,212.5 L461.0,212.4 L460.9,212.3 L460.9,212.2 L460.9,212.1 L460.9,211.9 L460.9,211.8 L460.9,211.7 L461.0,211.5 L461.0,211.4 L461.1,211.2 L461.1,211.1 L461.2,210.9 L461.2,210.8 L461.2,210.7 L461.1,210.6 L460.9,210.5 L460.8,210.4 L460.6,210.3 L460.5,210.3 L460.3,210.2 L460.2,210.1 L460.1,210.0 L459.9,209.9 L459.8,209.9 L459.7,209.8 L459.6,209.7 L459.5,209.6 L459.4,209.5 L459.2,209.4 L459.2,209.4 L459.1,209.3 L459.0,209.2 L458.9,209.1 L458.8,209.0 L458.8,208.9 L458.7,208.8 L458.6,208.7 L458.6,208.6 L458.5,208.5 L458.5,208.4 L458.5,208.2 L458.4,208.1 L458.4,208.0 L458.4,207.9 L458.4,207.8 L458.3,207.6 L458.3,207.5 L458.3,207.4 L458.3,207.3 L458.3,207.1 L458.3,207.0 L458.3,206.9 L458.2,206.8 L458.0,206.8 L457.8,206.7 L457.6,206.7 L457.4,206.7 L457.2,206.7 L457.0,206.6 L456.8,206.6 L456.7,206.6 L456.5,206.5 L456.4,206.5 L456.3,206.4 L456.2,206.3 L456.2,206.2 L456.1,206.1 L456.0,206.0 L456.0,205.9 L456.0,205.8 L456.0,205.7 L456.0,205.5 L456.0,205.4 L456.0,205.2 L456.1,205.1 L456.1,204.9 L456.1,204.8 L456.0,204.7 L455.8,204.7 L455.6,204.7 L455.5,204.7 L455.3,204.6 L455.2,204.6 L455.0,204.6 L454.9,204.5 L454.7,204.5 L454.6,204.5 L454.5,204.4 L454.4,204.4 L454.3,204.3 L454.2,204.2 L454.1,204.2 L454.0,204.1 L453.9,204.0 L453.9,203.9 L453.8,203.8 L453.7,203.7 L453.7,203.6 L453.6,203.5 L453.6,203.4 L453.6,203.3 L453.5,203.2 L453.5,203.1 L453.5,202.9 L453.4,202.8 L453.2,202.9 L453.0,202.9 L452.8,203.0 L452.6,203.0 L452.4,203.1 L452.2,203.1 L452.0,203.1 L451.9,203.1 L451.7,203.1 L451.6,203.1 L451.5,203.1 L451.4,203.0 L451.3,202.9 L451.2,202.8 L451.2,202.7 L451.2,202.6 L451.2,202.5 L451.1,202.3 L451.1,202.2 L451.1,202.0 L451.2,201.8 L451.2,201.6 Z" fill="#f1e9c4"/><path d="M451.2,201.6 L451.2,201.8 L451.1,202.0 L451.1,202.2 L451.1,202.3 L451.2,202.5 L451.2,202.6 L451.2,202.7 L451.2,202.8 L451.3,202.9 L451.4,203.0 L451.5,203.1 L451.6,203.1 L451.7,203.1 L451.9,203.1 L452.0,203.1 L452.2,203.1 L452.4,203.1 L452.6,203.0 L452.8,203.0 L453.0,202.9 L453.2,202.9 L453.4,202.8 L453.5,202.9 L453.5,203.1 L453.5,203.2 L453.6,203.3 L453.6,203.4 L453.6,203.5 L453.7,203.6 L453.7,203.7 L453.8,203.8 L453.9,203.9 L453.9,204.0 L454.0,204.1 L454.1,204.2 L454.2,204.2 L454.3,204.3 L454.4,204.4 L454.5,204.4 L454.6,204.5 L454.7,204.5 L454.9,204.5 L455.0,204.6 L455.2,204.6 L455.3,204.6 L455.5,204.7 L455.6,204.7 L455.8,204.7 L456.0,204.7 L456.1,204.8 L456.1,204.9 L456.1,205.1 L456.0,205.2 L456.0,205.4 L456.0,205.5 L456.0,205.7 L456.0,205.8 L456.0,205.9 L456.0,206.0 L456.1,206.1 L456.2,206.2 L456.2,206.3 L456.3,206.4 L456.4,206.5 L456.5,206.5 L456.7,206.6 L456.8,206.6 L457.0,206.6 L457.2,206.7 L457.4,206.7 L457.6,206.7 L457.8,206.7 L458.0,206.8 L458.2,206.8 L458.3,206.9 L458.3,207.0 L458.3,207.1 L458.3,207.3 L458.3,207.4 L458.3,207.5 L458.3,207.6 L458.4,207.8 L458.4,207.9 L458.4,208.0 L458.4,208.1 L458.5,208.2 L458.5,208.4 L458.5,208.5 L458.6,208.6 L458.6,208.7 L458.7,208.8 L458.8,208.9 L458.8,209.0 L458.9,209.1 L459.0,209.2 L459.1,209.3 L459.2,209.4 L459.2,209.4 L459.4,209.5 L459.5,209.6 L459.6,209.7 L459.7,209.8 L459.8,209.9 L459.9,209.9 L460.1,210.0 L460.2,210.1 L460.3,210.2 L460.5,210.3 L460.6,210.3 L460.8,210.4 L460.9,210.5 L461.1,210.6 L461.2,210.7 L461.2,210.8 L461.2,210.9 L461.1,211.1 L461.1,211.2 L461.0,211.4 L461.0,211.5 L460.9,211.7 L460.9,211.8 L460.9,211.9 L460.9,212.1 L460.9,212.2 L460.9,212.3 L461.0,212.4 L461.0,212.5 L461.1,212.6 L461.2,212.7 L461.3,212.8 L461.4,212.9 L461.5,213.0 L461.6,213.1 L461.8,213.2 L461.9,213.3 L462.1,213.4 L462.2,213.5 L462.4,213.6 L462.6,213.7 L462.8,213.8 L463.0,213.8 L463.0,214.0 L462.9,214.1 L462.9,214.3 L462.9,214.4 L462.8,214.5 L462.8,214.7 L462.8,214.8 L462.7,214.9 L462.7,215.1 L462.7,215.2 L462.7,215.3 L462.7,215.4 L462.7,215.6 L462.7,215.7 L462.7,215.8 L462.7,215.9 L462.8,216.1 L462.8,216.2 L462.9,216.3" fill="none" stroke="#a99f62" stroke-width="0.55"/>
<!-- jaw line -->
<path d="M206,267.6 C220,246 250,222 299.4,211 C320,206 338,201 345,197 C348,194 349,190 351,175" fill="none" stroke="#4b4636" stroke-width="2.4"/><path d="M206,267.6 C220,246 250,222 299.4,211 C320,206 338,201 345,197 C348,194 349,190 351,175" fill="none" stroke="#a89f7a" stroke-width="0.9" stroke-dasharray="1.2,1.3"/>
<path d="M390,160 C410,175 440,185 455,197 C462,203 465,210 465,216" fill="none" stroke="#4b4636" stroke-width="2"/><path d="M390,160 C410,175 440,185 455,197 C462,203 465,210 465,216" fill="none" stroke="#a89f7a" stroke-width="0.7" stroke-dasharray="1.2,1.3"/>

<!-- ear -->
<path d="M363,149.5 C357,152 354,155 354,160 C353.5,166 353.5,172 354,176 C355.5,178 355.5,180 355,183 C354,188 354,193 354.5,198 C355,205 357,211 364.8,214 C369,213 372,209 374,206 C379,200 384,195 386,191 C389,186 391,181 391,176 C391.5,170 391,165 390.3,161 C389,156 386,152 383,149.5 Z" fill="#eee6cd"/>
<path d="M363,149.5 C357,152 354,155 354,160 C353.5,166 353.5,172 354,176 C355.5,178 355.5,180 355,183 C354,188 354,193 354.5,198 C355,205 357,211 364.8,214 C369,213 372,209 374,206 C379,200 384,195 386,191 C389,186 391,181 391,176 C391.5,170 391,165 390.3,161 C389,156 386,152 383,149.5" fill="none" stroke="#4a4740" stroke-width="1.1"/>
<path d="M372.3,194 C375,191 376,189 376,187.2 C376,183 374,181 372,179 C367,176 362,173 361,169 C359,166 359.5,163.6 361,161 C363,156 366,154 369.8,153.7 C375,153.5 379,155 382,157.4 C385,161 386,168 385.3,176 C384.5,181 383,184 381,186 C378,190 376,192 373.5,193.4" fill="none" stroke="#4a4740" stroke-width="1.1"/>
<path d="M365.5,183.5 C364,187 362,191 362.4,194.7 C366,195 369,194.5 372,193.4 C369,191 367,187 365.5,183.5 Z" fill="#a8a8a8" stroke="#4a4740" stroke-width="0.8"/>

<!-- NECK base pink -->
<path d="M351,212 L365,223 L375,223 L385,218 L404,218 L417,227 L427,238 L436,242 L436,250 C430,270 426,310 426,335 C428,355 438,372 455,389 C475,405 500,425 509,458.3 C512,468 514,478 522,492 L271,492 L285,468 L270,395 L256,322 L300,300 Z" fill="#e3a9a3"/>

<clipPath id="hc8"><path d="M426,239 C432,239 436,242 436,250 C430,270 426,310 426,335 C428,355 438,372 455,389 C475,405 500,425 509,458.3 C512,468 514,478 522,492 L514,479 C480,478 440,482 430,478 C424,476 424,472 420,462 L407,457 L406,434 L403,372 L404,360 C404,350 406,335 408.6,320 C410,310 413,295 416,280 C418,270 421,258 426,239 Z"/></clipPath><g clip-path="url(#hc8)" fill="none" stroke="#6a3b36" stroke-width="0.6" opacity="0.65" stroke-linecap="round"><path d="M430.1,248.3 L429.2,251.6 L428.3,255.2 L427.5,259.0 L426.7,263.0 L425.9,267.1 L425.2,271.5 L424.5,276.0 L423.8,280.5 L423.2,285.2 L422.7,289.9 L422.2,294.7 L421.7,299.5 L421.3,304.2 L420.9,309.0 L420.6,313.6 L420.4,318.2 L420.2,322.6 L420.0,326.9 L419.9,331.1 L419.9,335.3 L420.3,338.8 L420.8,342.0 L421.5,345.2 L422.3,348.3 L423.2,351.3 L424.2,354.4 L425.4,357.3 L426.6,360.3 L428.0,363.2 L429.5,366.1 L431.2,368.9 L432.9,371.7 L434.7,374.5 L436.7,377.2 L438.8,380.0 L440.9,382.7 L443.2,385.3 L445.6,388.0 L448.1,390.7 L450.9,393.5 L454.2,396.2 L457.3,398.7 L460.4,401.2 L463.5,403.8 L466.6,406.5 L469.7,409.2 L472.7,412.1 L475.7,415.0 L478.7,418.1 L481.6,421.2 L484.3,424.5 L487.0,427.8 L489.6,431.3 L492.0,434.9 L494.3,438.7 L496.4,442.6 L498.4,446.7 L500.2,450.9 L501.7,455.3 L503.2,460.1 L503.6,461.5 L504.0,462.9 L504.4,464.4 L504.9,465.9 L505.3,467.4 L505.8,468.9 L506.3,470.5 L506.8,472.2 L507.3,473.8 L507.9,475.5 L508.5,477.3 L509.1,479.0 L509.8,480.9 L510.6,482.8 L511.4,484.7 L512.3,486.6 L513.3,488.7 L514.4,490.7 L515.5,492.8 L516.7,495.0"/><path d="M422.7,246.3 L421.8,249.6 L420.9,253.4 L420.0,257.4 L419.1,261.5 L418.3,265.8 L417.6,270.3 L416.9,274.9 L416.2,279.5 L415.6,284.3 L415.1,289.1 L414.5,293.9 L414.1,298.8 L413.7,303.6 L413.3,308.4 L413.0,313.1 L412.7,317.8 L412.5,322.3 L412.3,326.7 L412.3,330.9 L412.2,335.7 L412.7,339.9 L413.3,343.4 L414.0,346.9 L414.9,350.3 L415.9,353.7 L417.0,357.0 L418.2,360.2 L419.6,363.5 L421.2,366.6 L422.8,369.8 L424.6,372.8 L426.4,375.9 L428.4,378.8 L430.5,381.8 L432.7,384.7 L435.0,387.6 L437.4,390.4 L439.9,393.2 L442.6,396.0 L445.8,399.2 L449.4,402.2 L452.4,404.6 L455.5,407.1 L458.5,409.6 L461.5,412.2 L464.5,414.9 L467.4,417.6 L470.3,420.4 L473.1,423.3 L475.8,426.3 L478.4,429.3 L480.9,432.5 L483.3,435.7 L485.5,439.1 L487.6,442.5 L489.6,446.1 L491.4,449.8 L493.0,453.7 L494.4,457.7 L495.8,462.3 L496.2,463.7 L496.7,465.1 L497.1,466.5 L497.5,468.0 L497.9,469.5 L498.4,471.1 L498.9,472.8 L499.4,474.5 L500.0,476.2 L500.6,478.0 L501.2,479.9 L502.0,481.8 L502.7,483.7 L503.5,485.7 L504.4,487.8 L505.4,489.9 L506.4,492.1 L507.5,494.3 L508.7,496.5 L510.0,498.7"/><path d="M416.8,244.6 L415.8,248.0 L414.8,252.0 L413.9,256.1 L413.0,260.3 L412.2,264.8 L411.5,269.3 L410.8,274.0 L410.1,278.7 L409.5,283.5 L408.9,288.4 L408.4,293.3 L407.9,298.2 L407.5,303.1 L407.1,308.0 L406.8,312.8 L406.5,317.5 L406.3,322.1 L406.2,326.5 L406.1,330.8 L406.0,336.0 L406.6,340.8 L407.2,344.5 L408.0,348.3 L408.9,351.9 L409.9,355.5 L411.2,359.1 L412.5,362.6 L414.0,366.0 L415.6,369.4 L417.4,372.7 L419.2,376.0 L421.2,379.2 L423.3,382.4 L425.5,385.5 L427.8,388.5 L430.3,391.5 L432.8,394.5 L435.4,397.4 L438.1,400.3 L441.6,403.8 L445.5,407.0 L448.5,409.4 L451.5,411.9 L454.5,414.4 L457.4,416.9 L460.3,419.5 L463.1,422.1 L465.9,424.8 L468.6,427.6 L471.2,430.4 L473.6,433.3 L476.0,436.2 L478.2,439.3 L480.3,442.4 L482.3,445.6 L484.1,449.0 L485.7,452.4 L487.2,455.9 L488.6,459.6 L489.9,464.1 L490.3,465.5 L490.7,466.8 L491.1,468.3 L491.5,469.7 L492.0,471.3 L492.5,472.9 L493.0,474.6 L493.5,476.3 L494.1,478.1 L494.7,480.0 L495.4,482.0 L496.2,484.0 L497.0,486.0 L497.8,488.1 L498.8,490.3 L499.8,492.5 L500.9,494.8 L502.0,497.1 L503.3,499.5 L504.6,501.7"/><path d="M408.1,242.1 L407.1,245.7 L406.0,249.9 L405.1,254.2 L404.2,258.6 L403.3,263.2 L402.5,267.9 L401.8,272.6 L401.1,277.5 L400.5,282.4 L399.9,287.4 L399.4,292.4 L398.9,297.4 L398.5,302.4 L398.1,307.3 L397.8,312.2 L397.5,317.0 L397.3,321.7 L397.1,326.3 L397.0,330.7 L397.0,336.4 L397.6,342.1 L398.3,346.2 L399.2,350.3 L400.2,354.3 L401.3,358.3 L402.7,362.2 L404.1,366.0 L405.8,369.8 L407.5,373.5 L409.4,377.1 L411.5,380.6 L413.6,384.1 L415.9,387.5 L418.3,390.8 L420.7,394.1 L423.3,397.3 L426.0,400.4 L428.7,403.5 L431.6,406.5 L435.6,410.6 L439.9,414.0 L442.8,416.4 L445.8,418.8 L448.6,421.3 L451.5,423.7 L454.2,426.2 L456.9,428.7 L459.5,431.2 L462.0,433.8 L464.4,436.4 L466.7,439.0 L468.8,441.7 L470.8,444.5 L472.7,447.3 L474.4,450.1 L476.0,453.1 L477.5,456.1 L478.8,459.2 L480.0,462.5 L481.2,466.7 L481.7,468.1 L482.0,469.4 L482.4,470.8 L482.9,472.3 L483.3,473.8 L483.8,475.5 L484.3,477.2 L484.9,479.1 L485.5,481.0 L486.2,483.0 L486.9,485.0 L487.7,487.2 L488.6,489.4 L489.5,491.7 L490.5,494.0 L491.6,496.4 L492.8,498.8 L494.0,501.3 L495.4,503.8 L496.7,506.1"/><path d="M402.5,240.6 L401.5,244.2 L400.4,248.6 L399.4,253.0 L398.5,257.5 L397.6,262.2 L396.8,266.9 L396.1,271.8 L395.4,276.7 L394.7,281.7 L394.1,286.7 L393.6,291.8 L393.1,296.9 L392.7,301.9 L392.3,306.9 L392.0,311.8 L391.7,316.7 L391.5,321.5 L391.3,326.1 L391.2,330.6 L391.2,336.7 L391.9,342.9 L392.6,347.2 L393.5,351.6 L394.6,355.8 L395.8,360.0 L397.2,364.2 L398.8,368.2 L400.5,372.2 L402.3,376.1 L404.4,379.9 L406.5,383.6 L408.7,387.2 L411.1,390.8 L413.6,394.3 L416.1,397.6 L418.8,401.0 L421.6,404.2 L424.4,407.4 L427.4,410.5 L431.7,414.9 L436.2,418.6 L439.2,420.9 L442.0,423.3 L444.9,425.7 L447.6,428.1 L450.3,430.5 L452.9,432.9 L455.4,435.3 L457.8,437.7 L460.0,440.2 L462.2,442.7 L464.2,445.2 L466.0,447.8 L467.8,450.4 L469.4,453.0 L470.9,455.7 L472.2,458.5 L473.4,461.3 L474.5,464.3 L475.7,468.3 L476.1,469.8 L476.5,471.0 L476.9,472.4 L477.3,473.9 L477.7,475.4 L478.2,477.1 L478.8,478.9 L479.4,480.8 L480.0,482.8 L480.7,484.9 L481.4,487.0 L482.3,489.2 L483.2,491.5 L484.1,493.9 L485.2,496.3 L486.3,498.8 L487.6,501.4 L488.9,504.0 L490.3,506.6 L491.6,509.0"/><path d="M395.5,238.6 L394.5,242.4 L393.4,246.9 L392.3,251.5 L391.4,256.2 L390.5,260.9 L389.7,265.8 L388.9,270.8 L388.2,275.8 L387.6,280.8 L387.0,285.9 L386.4,291.1 L385.9,296.2 L385.5,301.3 L385.1,306.4 L384.8,311.4 L384.5,316.3 L384.3,321.2 L384.1,325.9 L384.0,330.5 L384.0,337.0 L384.7,343.9 L385.5,348.5 L386.5,353.2 L387.6,357.7 L388.9,362.2 L390.4,366.6 L392.1,370.9 L393.9,375.2 L395.9,379.3 L398.0,383.4 L400.3,387.3 L402.7,391.1 L405.2,394.9 L407.8,398.5 L410.5,402.1 L413.3,405.6 L416.1,409.0 L419.1,412.3 L422.2,415.5 L426.9,420.2 L431.7,424.2 L434.6,426.5 L437.4,428.9 L440.2,431.2 L442.9,433.5 L445.5,435.8 L447.9,438.1 L450.3,440.4 L452.5,442.7 L454.6,445.0 L456.6,447.3 L458.4,449.6 L460.1,451.9 L461.7,454.3 L463.1,456.6 L464.5,459.0 L465.6,461.5 L466.7,464.0 L467.6,466.5 L468.8,470.4 L469.2,471.8 L469.5,473.1 L469.9,474.4 L470.4,475.9 L470.8,477.5 L471.3,479.2 L471.9,481.0 L472.5,483.0 L473.2,485.0 L473.9,487.2 L474.7,489.5 L475.5,491.8 L476.5,494.2 L477.5,496.7 L478.6,499.3 L479.8,501.9 L481.1,504.6 L482.5,507.3 L483.9,510.1 L485.3,512.5"/><path d="M388.5,236.6 L387.4,240.5 L386.2,245.2 L385.2,250.0 L384.2,254.8 L383.3,259.7 L382.5,264.6 L381.7,269.7 L381.0,274.8 L380.3,279.9 L379.7,285.1 L379.1,290.3 L378.6,295.5 L378.2,300.7 L377.8,305.9 L377.5,310.9 L377.2,315.9 L376.9,320.9 L376.8,325.7 L376.7,330.4 L376.7,337.4 L377.5,344.9 L378.3,349.9 L379.3,354.8 L380.5,359.6 L381.9,364.4 L383.5,369.1 L385.3,373.7 L387.3,378.2 L389.4,382.6 L391.6,386.9 L394.0,391.0 L396.5,395.1 L399.1,399.0 L401.9,402.9 L404.7,406.6 L407.6,410.2 L410.6,413.8 L413.7,417.2 L416.9,420.6 L422.0,425.7 L427.1,429.9 L430.0,432.2 L432.8,434.5 L435.5,436.8 L438.0,439.0 L440.5,441.2 L442.9,443.4 L445.1,445.6 L447.2,447.7 L449.1,449.8 L451.0,452.0 L452.6,454.1 L454.1,456.1 L455.5,458.2 L456.8,460.3 L457.9,462.4 L458.9,464.5 L459.9,466.6 L460.7,468.8 L461.7,472.5 L462.2,473.9 L462.5,475.1 L462.9,476.4 L463.3,477.9 L463.8,479.5 L464.3,481.3 L464.9,483.2 L465.5,485.2 L466.2,487.3 L467.0,489.6 L467.8,491.9 L468.7,494.4 L469.7,496.9 L470.8,499.6 L471.9,502.3 L473.2,505.0 L474.5,507.8 L476.0,510.7 L477.5,513.6 L478.9,516.1"/><path d="M381.5,234.7 L380.4,238.7 L379.1,243.5 L378.0,248.5 L377.0,253.4 L376.1,258.4 L375.3,263.5 L374.5,268.6 L373.8,273.8 L373.1,279.1 L372.5,284.3 L371.9,289.6 L371.4,294.9 L370.9,300.1 L370.5,305.3 L370.2,310.5 L369.9,315.6 L369.7,320.6 L369.5,325.5 L369.4,330.3 L369.4,337.7 L370.3,345.9 L371.1,351.2 L372.2,356.4 L373.5,361.6 L375.0,366.6 L376.7,371.6 L378.6,376.5 L380.6,381.2 L382.9,385.9 L385.2,390.4 L387.7,394.8 L390.4,399.0 L393.1,403.2 L396.0,407.2 L399.0,411.1 L402.0,414.9 L405.1,418.6 L408.3,422.1 L411.6,425.6 L417.1,431.1 L422.5,435.6 L425.4,437.9 L428.1,440.1 L430.7,442.3 L433.2,444.5 L435.6,446.6 L437.8,448.7 L439.9,450.7 L441.9,452.7 L443.7,454.7 L445.3,456.6 L446.8,458.5 L448.2,460.3 L449.4,462.1 L450.5,463.9 L451.4,465.7 L452.3,467.5 L453.1,469.3 L453.7,471.1 L454.8,474.6 L455.2,476.0 L455.5,477.2 L455.9,478.5 L456.3,479.9 L456.8,481.6 L457.3,483.3 L457.9,485.3 L458.6,487.4 L459.3,489.6 L460.1,491.9 L460.9,494.4 L461.9,497.0 L462.9,499.7 L464.0,502.4 L465.3,505.2 L466.6,508.1 L468.0,511.0 L469.5,514.0 L471.1,517.0 L472.5,519.6"/><path d="M374.6,232.7 L373.5,236.8 L372.2,241.9 L371.1,247.0 L370.0,252.1 L369.1,257.2 L368.2,262.4 L367.4,267.6 L366.7,272.9 L366.0,278.2 L365.4,283.5 L364.8,288.9 L364.3,294.2 L363.8,299.5 L363.4,304.8 L363.1,310.0 L362.8,315.2 L362.5,320.3 L362.4,325.3 L362.3,330.2 L362.3,338.1 L363.2,346.9 L364.1,352.5 L365.3,358.0 L366.6,363.4 L368.2,368.8 L370.0,374.0 L372.0,379.2 L374.1,384.2 L376.5,389.1 L379.0,393.8 L381.6,398.4 L384.4,402.9 L387.3,407.2 L390.3,411.4 L393.3,415.5 L396.5,419.4 L399.8,423.2 L403.1,427.0 L406.5,430.6 L412.3,436.4 L418.1,441.1 L420.9,443.4 L423.6,445.6 L426.1,447.7 L428.5,449.8 L430.8,451.8 L432.9,453.8 L434.9,455.7 L436.7,457.6 L438.3,459.4 L439.8,461.1 L441.2,462.8 L442.3,464.4 L443.4,466.0 L444.3,467.5 L445.1,468.9 L445.8,470.4 L446.4,471.8 L447.0,473.3 L447.9,476.7 L448.4,478.1 L448.7,479.2 L449.1,480.5 L449.5,481.9 L450.0,483.6 L450.5,485.4 L451.1,487.4 L451.8,489.5 L452.5,491.8 L453.3,494.3 L454.2,496.8 L455.2,499.5 L456.3,502.3 L457.5,505.2 L458.8,508.1 L460.1,511.1 L461.6,514.2 L463.2,517.3 L464.9,520.5 L466.3,523.1"/><path d="M368.9,231.1 L367.7,235.3 L366.4,240.5 L365.2,245.7 L364.2,250.9 L363.2,256.2 L362.3,261.4 L361.5,266.7 L360.8,272.1 L360.1,277.5 L359.5,282.9 L358.9,288.3 L358.4,293.7 L357.9,299.0 L357.5,304.4 L357.1,309.7 L356.8,314.9 L356.6,320.1 L356.4,325.1 L356.3,330.1 L356.4,338.4 L357.3,347.8 L358.3,353.6 L359.5,359.3 L360.9,365.0 L362.5,370.6 L364.4,376.1 L366.5,381.4 L368.7,386.7 L371.2,391.7 L373.8,396.7 L376.5,401.5 L379.4,406.1 L382.4,410.6 L385.5,414.9 L388.6,419.1 L391.9,423.2 L395.3,427.2 L398.7,431.0 L402.2,434.7 L408.3,440.8 L414.3,445.8 L417.1,448.0 L419.8,450.2 L422.3,452.3 L424.6,454.3 L426.8,456.2 L428.8,458.1 L430.7,459.9 L432.4,461.7 L433.9,463.3 L435.2,464.9 L436.4,466.4 L437.5,467.8 L438.4,469.2 L439.1,470.4 L439.8,471.7 L440.4,472.8 L440.9,474.0 L441.3,475.2 L442.2,478.4 L442.7,479.8 L443.0,480.9 L443.3,482.1 L443.8,483.6 L444.2,485.2 L444.8,487.1 L445.4,489.1 L446.1,491.3 L446.8,493.7 L447.7,496.2 L448.6,498.9 L449.6,501.6 L450.8,504.5 L452.0,507.5 L453.3,510.5 L454.7,513.7 L456.3,516.8 L457.9,520.1 L459.6,523.3 L461.1,526.0"/><path d="M362.3,229.3 L361.1,233.5 L359.7,239.0 L358.5,244.3 L357.4,249.6 L356.5,255.0 L355.6,260.3 L354.7,265.7 L354.0,271.2 L353.3,276.6 L352.6,282.1 L352.0,287.6 L351.5,293.0 L351.0,298.5 L350.6,303.9 L350.3,309.3 L350.0,314.6 L349.7,319.8 L349.6,324.9 L349.4,330.0 L349.5,338.7 L350.5,348.7 L351.5,354.8 L352.8,360.9 L354.3,366.8 L356.0,372.7 L357.9,378.4 L360.1,384.0 L362.5,389.5 L365.0,394.8 L367.7,400.0 L370.6,405.0 L373.6,409.8 L376.7,414.5 L379.9,419.0 L383.2,423.4 L386.6,427.6 L390.1,431.7 L393.6,435.6 L397.2,439.4 L403.7,445.9 L410.0,451.1 L412.8,453.3 L415.4,455.5 L417.8,457.5 L420.1,459.5 L422.2,461.3 L424.1,463.1 L425.8,464.8 L427.4,466.4 L428.7,467.9 L429.9,469.3 L431.0,470.6 L431.8,471.8 L432.6,472.9 L433.2,473.9 L433.7,474.8 L434.1,475.7 L434.5,476.5 L434.8,477.3 L435.6,480.4 L436.1,481.8 L436.4,482.8 L436.7,484.0 L437.2,485.5 L437.6,487.1 L438.2,489.0 L438.8,491.1 L439.5,493.4 L440.3,495.8 L441.2,498.4 L442.2,501.2 L443.2,504.1 L444.4,507.1 L445.7,510.2 L447.0,513.3 L448.5,516.6 L450.1,519.9 L451.8,523.2 L453.6,526.6 L455.1,529.3"/><path d="M355.3,227.3 L354.1,231.7 L352.7,237.3 L351.5,242.8 L350.4,248.3 L349.4,253.7 L348.5,259.2 L347.6,264.7 L346.8,270.2 L346.1,275.7 L345.5,281.3 L344.9,286.8 L344.4,292.4 L343.9,297.9 L343.5,303.4 L343.1,308.8 L342.8,314.2 L342.5,319.5 L342.4,324.7 L342.2,329.9 L342.3,339.0 L343.4,349.7 L344.4,356.1 L345.7,362.5 L347.3,368.7 L349.1,374.9 L351.2,380.9 L353.5,386.8 L355.9,392.5 L358.6,398.1 L361.4,403.5 L364.4,408.7 L367.5,413.7 L370.8,418.6 L374.1,423.3 L377.6,427.8 L381.1,432.2 L384.7,436.4 L388.3,440.5 L392.0,444.4 L398.9,451.3 L405.5,456.7 L408.2,458.9 L410.8,461.0 L413.2,463.0 L415.3,464.9 L417.3,466.6 L419.1,468.3 L420.7,469.9 L422.1,471.3 L423.3,472.6 L424.4,473.9 L425.2,474.9 L425.9,475.9 L426.5,476.7 L426.9,477.5 L427.3,478.1 L427.6,478.6 L427.8,479.1 L427.9,479.6 L428.8,482.4 L429.2,483.8 L429.5,484.8 L429.8,486.0 L430.3,487.5 L430.7,489.2 L431.3,491.1 L431.9,493.2 L432.7,495.5 L433.5,498.1 L434.4,500.8 L435.4,503.6 L436.5,506.6 L437.7,509.7 L439.0,513.0 L440.5,516.3 L442.0,519.6 L443.7,523.1 L445.4,526.5 L447.3,530.0 L448.8,532.8"/><path d="M349.5,225.7 L348.3,230.2 L346.8,235.9 L345.6,241.6 L344.4,247.1 L343.4,252.7 L342.5,258.2 L341.6,263.8 L340.9,269.4 L340.1,275.0 L339.5,280.6 L338.9,286.2 L338.3,291.8 L337.8,297.4 L337.4,302.9 L337.1,308.4 L336.7,313.9 L336.5,319.2 L336.3,324.6 L336.2,329.8 L336.3,339.3 L337.4,350.6 L338.5,357.2 L339.9,363.8 L341.5,370.3 L343.4,376.7 L345.5,382.9 L347.9,389.1 L350.4,395.0 L353.2,400.8 L356.1,406.4 L359.2,411.8 L362.5,417.0 L365.8,422.0 L369.3,426.9 L372.8,431.5 L376.4,436.0 L380.1,440.4 L383.8,444.6 L387.6,448.6 L394.9,455.8 L401.7,461.4 L404.4,463.6 L406.9,465.7 L409.2,467.6 L411.3,469.4 L413.2,471.1 L414.9,472.7 L416.4,474.1 L417.7,475.5 L418.8,476.6 L419.7,477.7 L420.4,478.6 L421.0,479.4 L421.4,480.0 L421.7,480.5 L421.9,480.8 L422.0,481.1 L422.1,481.3 L422.2,481.5 L423.0,484.2 L423.4,485.6 L423.7,486.5 L424.0,487.7 L424.4,489.2 L424.9,490.9 L425.5,492.8 L426.2,495.0 L426.9,497.4 L427.7,500.0 L428.7,502.7 L429.7,505.7 L430.8,508.8 L432.1,512.0 L433.5,515.3 L434.9,518.7 L436.5,522.2 L438.2,525.7 L440.0,529.3 L442.0,532.9 L443.6,535.8"/><path d="M341.9,223.5 L340.6,228.1 L339.1,234.1 L337.8,239.9 L336.7,245.6 L335.6,251.3 L334.7,257.0 L333.8,262.7 L333.0,268.3 L332.3,274.0 L331.6,279.7 L331.0,285.4 L330.4,291.1 L329.9,296.8 L329.5,302.4 L329.1,307.9 L328.8,313.5 L328.6,318.9 L328.4,324.3 L328.3,329.7 L328.4,339.7 L329.6,351.7 L330.7,358.7 L332.1,365.6 L333.8,372.4 L335.8,379.1 L338.0,385.6 L340.5,392.1 L343.2,398.3 L346.1,404.3 L349.2,410.2 L352.4,415.8 L355.8,421.3 L359.3,426.5 L362.9,431.6 L366.6,436.4 L370.3,441.1 L374.1,445.6 L378.0,449.9 L381.9,454.1 L389.6,461.6 L396.8,467.6 L399.4,469.8 L401.9,471.8 L404.1,473.6 L406.1,475.4 L407.9,476.9 L409.5,478.4 L410.8,479.7 L411.9,480.9 L412.9,481.9 L413.6,482.7 L414.1,483.4 L414.5,483.9 L414.7,484.3 L414.8,484.4 L414.9,484.4 L414.8,484.4 L414.7,484.2 L414.7,484.0 L415.4,486.5 L415.8,487.9 L416.1,488.8 L416.4,489.9 L416.8,491.4 L417.3,493.1 L417.9,495.1 L418.6,497.3 L419.3,499.8 L420.2,502.4 L421.2,505.3 L422.2,508.4 L423.4,511.6 L424.7,514.9 L426.2,518.4 L427.7,521.9 L429.4,525.6 L431.1,529.2 L433.0,533.0 L435.0,536.7 L436.6,539.7"/></g><path d="M436,250 C430,270 426,310 426,335 C428,355 438,372 455,389 C475,405 500,425 509,458.3 C512,468 514,478 522,492" fill="none" stroke="#4b4636" stroke-width="0.9"/>

<!-- red scalenus -->
<path d="M414,228 L426,239 C421,258 418,270 416,280 C413,295 410,310 408.6,320 C406,335 404,350 404,360 L403,372 L406,434 L359,410 C363,380 374,350 384,320 C396,285 405,250 414,228 Z" fill="#e2706a"/>
<path d="M390,385 L404,398 L406,435 L399,431 Z" fill="#c55a5c" opacity="0.75"/>
<g fill="none" stroke="#6a3b36" stroke-width="0.65" opacity="0.7" stroke-linecap="round"><path d="M414.4,233.8 L407.7,246.0 L403.5,259.3 L399.9,272.7 L396.3,286.2 L391.8,299.4 L387.4,312.6 L382.8,325.8 L378.0,338.9 L373.2,351.9 L369.3,365.3 L365.4,378.7 L363.0,392.4"/><path d="M403.9,265.8 L401.4,275.6 L398.9,285.3 L395.9,295.0 L392.8,304.5 L389.9,314.1 L386.9,323.7 L383.7,333.2 L380.5,342.8 L377.4,352.3 L374.7,362.0 L372.4,371.7 L370.0,381.4"/><path d="M402.8,278.4 L400.8,286.6 L398.4,294.7 L396.0,302.7 L393.6,310.8 L391.3,318.9 L389.0,327.0 L386.6,335.0 L384.1,343.0 L381.7,351.0 L379.5,359.1 L377.8,367.3 L376.1,375.5"/><path d="M416.6,241.1 L412.5,251.2 L409.5,261.7 L406.8,272.4 L404.3,283.1 L401.6,293.8 L398.7,304.4 L395.8,315.0 L393.2,325.6 L390.4,336.2 L387.6,346.7 L384.8,357.3 L382.9,368.0"/><path d="M413.9,251.5 L410.2,265.1 L406.9,278.9 L403.7,292.8 L400.0,306.5 L396.7,320.2 L393.4,334.0 L390.1,347.7 L386.9,361.4 L385.1,375.3 L383.3,389.2 L382.5,403.3 L381.8,417.4"/><path d="M415.2,255.4 L412.0,268.5 L409.0,281.7 L406.1,294.9 L402.9,308.0 L400.0,321.1 L397.4,334.3 L394.7,347.4 L392.1,360.6 L390.6,373.8 L389.7,387.1 L389.0,400.5 L388.7,414.0"/><path d="M414.9,262.2 L411.9,274.7 L409.2,287.3 L406.4,299.9 L403.5,312.5 L401.1,325.1 L398.8,337.7 L396.4,350.3 L394.2,363.0 L393.2,375.7 L392.6,388.4 L392.2,401.2 L392.2,414.0"/><path d="M421.8,244.9 L417.9,259.6 L414.4,274.5 L411.3,289.6 L408.2,304.6 L405.2,319.6 L403.0,334.7 L400.6,349.8 L398.5,364.9 L398.0,380.1 L398.0,395.3 L398.2,410.6 L398.5,425.9"/><path d="M420.2,256.1 L417.2,268.8 L414.4,281.5 L412.0,294.3 L409.5,307.2 L407.0,320.0 L405.3,332.9 L403.6,345.8 L401.9,358.7 L400.7,371.7 L401.1,384.7 L401.4,397.7 L401.9,410.7"/></g>
<!-- light pink back strip -->
<path d="M426,239 C432,239 436,242 436,250 C430,270 426,310 426,335 L420,390 L406,434 L403,372 L404,360 C404,350 406,335 408.6,320 C410,310 413,295 416,280 C418,270 421,258 426,239 Z" fill="#e4aca6"/>
<g fill="none" stroke="#6a3b36" stroke-width="0.55" opacity="0.55" stroke-linecap="round"><path d="M421.0,268.0 L419.9,271.9 L419.0,275.9 L418.1,279.8 L417.4,283.8 L416.7,287.9 L416.0,291.9 L415.3,295.9 L414.6,299.9 L413.9,303.9 L413.3,307.9 L412.6,311.9 L411.9,315.9"/><path d="M422.0,281.9 L421.3,286.6 L420.7,291.3 L420.0,296.1 L419.3,300.8 L418.7,305.6 L418.0,310.3 L417.4,315.1 L417.0,319.8 L416.6,324.6 L416.2,329.4 L415.8,334.2 L415.4,338.9"/><path d="M428.2,269.6 L427.4,275.5 L426.8,281.5 L426.3,287.4 L425.7,293.4 L425.1,299.3 L424.5,305.2 L424.0,311.2 L423.6,317.1 L423.3,323.1 L423.0,329.0 L422.6,335.0 L422.6,341.0"/></g>
<!-- omohyoid inferior -->
<path d="M355,406.5 L406,435 L406,449 L355,422 Z" fill="#e4aea8" stroke="#6a3b36" stroke-width="0.6"/><path d="M355,410.5 L406,439 M355,414.5 L406,442.5 M355,418.5 L406,446" stroke="#6a3b36" stroke-width="0.5" opacity="0.55"/>
<!-- teal subclavian -->
<path d="M355,422 L406,449 L406,457 L355,457 Z" fill="#86e3d8"/>
<path d="M355,422 L377,433.5 C380,441 383,448 384,455 L355,455 Z" fill="#5ebda8"/><path d="M360,425 L363,455 M366,428 L370,455 M372,431 L377,455" stroke="#2d6a5a" stroke-width="0.5" opacity="0.6"/>
<path d="M355,455 L406,455" stroke="#2d6a5a" stroke-width="0.5" opacity="0.6"/>

<!-- SCM -->
<path d="M351,212 C353,218 355,221 358,221 C364,223 370,224 373,224 C377,223 380,221 383,220 C390,218 398,218 401,218 C406,220 410,224 414,228 C405,250 396,285 384,320 C374,350 363,380 359,410 L356,456 L340,460 L300,463 L285,468 C295,440 305,410 310,390 C318,360 325,330 330,310 C338,280 345,245 351,212 Z" fill="#e3a9a3"/>
<g fill="none" stroke="#5a3530" stroke-width="0.75" opacity="0.75" stroke-linecap="round"><path d="M353.7,220.0 L352.5,226.3 L351.3,232.5 L350.1,238.7 L348.9,245.0 L347.6,251.2 L346.4,257.4 L345.1,263.6 L343.8,269.8 L342.5,276.1 L341.1,282.3 L339.5,288.4 L337.8,294.5 L336.2,300.7 L334.5,306.8 L332.9,312.9 L331.4,319.1"/><path d="M358.9,225.5 L357.9,231.1 L356.9,236.7 L355.9,242.3 L354.8,247.9 L353.6,253.4 L352.4,259.0 L351.2,264.6 L350.0,270.2 L348.9,275.7 L347.6,281.3 L346.1,286.8 L344.6,292.3 L343.1,297.8 L341.6,303.3 L340.0,308.8 L338.6,314.3"/><path d="M365.7,222.0 L364.7,228.2 L363.7,234.4 L362.6,240.6 L361.4,246.8 L360.1,253.0 L358.8,259.1 L357.4,265.3 L356.1,271.4 L354.7,277.6 L353.2,283.7 L351.5,289.8 L349.8,295.8 L348.0,301.9 L346.3,308.0 L344.7,314.0 L343.0,320.1"/><path d="M372.3,219.5 L371.4,225.6 L370.4,231.8 L369.5,237.9 L368.5,244.0 L367.2,250.1 L365.8,256.2 L364.5,262.3 L363.1,268.3 L361.7,274.4 L360.4,280.5 L358.7,286.4 L356.9,292.4 L355.2,298.4 L353.4,304.3 L351.7,310.3 L350.0,316.3"/><path d="M377.7,224.6 L376.8,231.3 L375.8,238.0 L374.9,244.7 L373.4,251.3 L371.8,257.9 L370.3,264.5 L368.8,271.1 L367.2,277.7 L365.6,284.2 L363.6,290.7 L361.7,297.2 L359.7,303.7 L357.8,310.2 L355.9,316.7 L354.0,323.2 L352.1,329.6"/><path d="M384.5,220.1 L383.8,225.5 L383.1,231.0 L382.4,236.5 L381.6,242.0 L380.8,247.4 L379.5,252.8 L378.2,258.2 L376.9,263.5 L375.6,268.9 L374.3,274.3 L373.0,279.7 L371.6,285.0 L370.0,290.3 L368.3,295.6 L366.7,300.9 L365.1,306.2"/><path d="M390.5,220.7 L389.7,227.7 L388.9,234.7 L388.1,241.7 L387.0,248.7 L385.3,255.5 L383.6,262.3 L381.9,269.2 L380.2,276.0 L378.5,282.8 L376.4,289.6 L374.3,296.3 L372.1,303.0 L370.0,309.7 L367.9,316.4 L365.8,323.2 L363.6,329.8"/><path d="M395.9,227.3 L395.5,231.6 L395.0,235.8 L394.6,240.1 L394.2,244.3 L393.5,248.6 L392.4,252.7 L391.4,256.8 L390.3,261.0 L389.2,265.1 L388.2,269.3 L387.1,273.4 L386.1,277.6 L385.0,281.7 L383.8,285.8 L382.5,289.9 L381.2,294.0"/><path d="M401.8,230.8 L401.1,237.6 L400.5,244.5 L399.3,251.2 L397.5,257.8 L395.8,264.5 L394.1,271.1 L392.3,277.7 L390.5,284.4 L388.4,290.9 L386.2,297.4 L384.0,303.9 L381.9,310.4 L379.7,316.9 L377.4,323.4 L375.1,329.9 L372.8,336.3"/><path d="M343.7,383.6 L343.2,385.9 L342.7,388.2 L342.2,390.5 L341.8,392.7 L341.3,395.0 L340.8,397.3 L340.4,399.6 L339.9,401.9"/><path d="M318.5,376.1 L317.9,378.1 L317.4,380.1 L316.8,382.2 L316.3,384.2 L315.7,386.3 L315.2,388.3 L314.6,390.4 L314.0,392.4"/><path d="M336.8,336.3 L336.2,338.2 L335.7,340.2 L335.2,342.1 L334.7,344.0 L334.2,346.0 L333.6,347.9 L333.1,349.8 L332.6,351.8"/><path d="M341.8,361.7 L340.6,366.1 L339.4,370.4 L338.1,374.8 L336.9,379.1 L335.7,383.4 L334.5,387.8 L333.5,392.2 L332.5,396.6"/><path d="M336.9,387.8 L336.2,391.2 L335.4,394.5 L334.7,397.8 L334.0,401.2 L333.2,404.5 L332.5,407.9 L331.8,411.2 L331.0,414.5"/><path d="M350.1,362.9 L349.3,365.5 L348.6,368.1 L347.8,370.7 L347.1,373.3 L346.3,375.9 L345.6,378.5 L344.8,381.1 L344.1,383.7"/><path d="M352.5,431.3 L352.3,433.8 L352.1,436.2 L351.8,438.7 L351.6,441.2 L351.4,443.7 L351.2,446.1 L351.0,448.6 L350.8,451.1"/><path d="M357.7,344.3 L357.0,346.7 L356.2,349.1 L355.4,351.5 L354.6,354.0 L353.9,356.4 L353.2,358.9 L352.5,361.3 L351.8,363.8"/><path d="M347.7,313.0 L346.6,317.2 L345.5,321.4 L344.3,325.5 L343.1,329.7 L342.0,333.8 L340.8,338.0 L339.6,342.1 L338.5,346.3"/><path d="M325.1,416.3 L324.5,419.3 L323.8,422.4 L323.2,425.4 L322.6,428.4 L322.0,431.4 L321.3,434.4 L320.7,437.4 L320.1,440.5"/><path d="M352.3,412.0 L352.1,413.8 L351.9,415.6 L351.7,417.4 L351.6,419.2 L351.4,421.0 L351.2,422.8 L351.1,424.6 L350.9,426.4"/><path d="M313.7,426.5 L312.9,429.8 L312.1,433.0 L311.3,436.3 L310.5,439.6 L309.7,442.9 L308.9,446.2 L308.0,449.5 L307.2,452.8"/><path d="M366.5,353.5 L366.0,355.5 L365.4,357.5 L364.8,359.4 L364.2,361.4 L363.7,363.3 L363.1,365.3 L362.5,367.2 L361.9,369.2"/><path d="M338.1,405.4 L337.5,408.1 L337.0,410.7 L336.4,413.3 L336.0,416.0 L335.6,418.6 L335.2,421.3 L334.7,423.9 L334.3,426.5"/><path d="M328.8,349.0 L327.5,353.8 L326.3,358.7 L325.0,363.5 L323.7,368.3 L322.4,373.2 L321.0,378.0 L319.7,382.8 L318.4,387.7"/><path d="M368.4,318.8 L367.6,321.3 L366.8,323.8 L366.0,326.2 L365.2,328.7 L364.4,331.1 L363.5,333.6 L362.7,336.1 L361.9,338.5"/></g>
<path d="M305,463 C311,447 321,426 333,404" fill="none" stroke="#5a3530" stroke-width="0.9" opacity="0.8"/>
<path d="M414,228 C405,250 396,285 384,320 C374,350 363,380 359,410 L356,456" fill="none" stroke="#4b4636" stroke-width="0.9"/>
<path d="M351,212 C345,245 338,280 330,310 C325,330 318,360 310,390 C305,410 295,440 285,468" fill="none" stroke="#4b4636" stroke-width="0.8"/>

<!-- strap muscles -->
<path d="M256,322 L272,316 C280,333 286,347 292,360 C298,372 303,382 310,392 C305,410 295,440 285,468 C276,430 262,360 256,322 Z" fill="#eab650"/>
<path d="M256,322 L259,321 C263,335 268,350 275,365 C280,378 282,390 283,410 C284,430 285,450 285,468 C276,430 262,360 256,322 Z" fill="#f3d873"/>
<path d="M259,321 L265,320 C267,335 272,348 279,362 C284,376 287,390 289,410 C291,430 289,450 285,468 C285,450 284,430 283,410 C282,390 280,378 275,365 C268,350 263,335 259,321 Z" fill="#d3bb5d"/>
<clipPath id="hc6"><path d="M256,322 L272,316 C280,333 286,347 292,360 C298,372 303,382 310,392 C305,410 295,440 285,468 C276,430 262,360 256,322 Z"/></clipPath><g clip-path="url(#hc6)" fill="none" stroke="#6b5520" stroke-width="0.55" opacity="0.5" stroke-linecap="round"><path d="M282.5,337.2 Q296.7,379.9 307.0,423.7"/><path d="M280.5,348.0 Q289.0,370.8 293.7,394.7"/><path d="M267.6,323.2 Q283.8,373.2 296.2,424.4"/><path d="M261.7,328.2 Q275.6,370.1 285.7,413.0"/><path d="M259.9,344.8 Q269.6,371.7 275.5,399.8"/></g>
<!-- omohyoid superior -->
<path d="M272,316 L285,311 C292,328 300,345 307.5,360 L314,372 L310,392 C303,382 298,372 292,360 C286,347 280,333 272,316 Z" fill="#e3a6a0"/>
<clipPath id="hc4"><path d="M272,316 L285,311 C292,328 300,345 307.5,360 L314,372 L310,392 C303,382 298,372 292,360 C286,347 280,333 272,316 Z"/></clipPath><g clip-path="url(#hc4)" fill="none" stroke="#6a3b36" stroke-width="0.6" opacity="0.7" stroke-linecap="round"><path d="M282.6,310.7 Q299.1,344.2 315.6,377.7"/><path d="M279.5,312.2 Q296.0,345.7 312.5,379.2"/><path d="M276.6,313.7 Q293.1,347.2 309.6,380.7"/><path d="M273.3,315.3 Q289.8,348.8 306.3,382.3"/></g>
<!-- teal -->
<path d="M285,311 L292,303 L321,264.5 L350,223.5 C345,245 338,280 330,310 L314,372 L307.5,360 C300,345 292,328 285,311 Z" fill="#82cbcc"/>
<path d="M304,292 L343,256 L336,290 L330,310 L314,372 L307.5,360 C300,345 292,328 285,311 Z" fill="#6cbcbf" opacity="0.5"/>
<clipPath id="hc5"><path d="M285,311 L292,303 L321,264.5 L350,223.5 C345,245 338,280 330,310 L314,372 L307.5,360 C300,345 292,328 285,311 Z"/></clipPath><g clip-path="url(#hc5)" fill="none" stroke="#2d5f62" stroke-width="0.6" opacity="0.6" stroke-linecap="round"><path d="M359.6,233.2 Q329.6,273.2 299.6,313.2"/><path d="M355.8,230.4 Q325.8,270.4 295.8,310.4"/><path d="M352.6,227.9 Q322.6,267.9 292.6,307.9"/><path d="M348.1,224.6 Q318.1,264.6 288.1,304.6"/><path d="M343.7,221.3 Q313.7,261.3 283.7,301.3"/><path d="M340.3,218.7 Q310.3,258.7 280.3,298.7"/><path d="M321.8,306.1 Q322.9,323.2 329.7,338.8"/><path d="M317.0,314.9 Q317.8,331.1 324.5,345.9"/><path d="M309.2,305.4 Q311.9,329.4 320.5,351.9"/><path d="M303.5,307.0 Q306.1,330.3 314.5,352.2"/><path d="M299.8,316.1 Q301.2,334.4 308.4,351.3"/><path d="M294.7,318.8 Q296.1,337.4 303.4,354.6"/></g>
<path d="M302,316 C307,328 317,333 326,322 L323,317 Z" fill="#5aaeb2" opacity="0.55"/><path d="M302,316 C307,328 317,333 326,322" fill="none" stroke="#2d5f62" stroke-width="0.7" opacity="0.8"/>
<!-- post digastric pink -->
<path d="M349.7,214.8 L350,223.5 L321,264.5 L292,303 L286,301 C292,294 300,285 303,278 L309,265 L314.9,254.6 C322,245 331,236 335,231 C341,225 346,219 349.7,214.8 Z" fill="#e3a8a1" stroke="#4b4636" stroke-width="0.5"/>
<clipPath id="hc7"><path d="M349.7,214.8 L350,223.5 L321,264.5 L292,303 L286,301 C292,294 300,285 303,278 L309,265 L314.9,254.6 C322,245 331,236 335,231 C341,225 346,219 349.7,214.8 Z"/></clipPath><g clip-path="url(#hc7)" fill="none" stroke="#6a3b36" stroke-width="0.55" opacity="0.6" stroke-linecap="round"><path d="M351.4,219.0 Q321.4,261.5 291.4,304.0"/><path d="M349.0,217.3 Q319.0,259.8 289.0,302.3"/></g>
<!-- gray blade -->
<path d="M349.7,201 C340,207 330,222 324.8,231 C320,238 316,246 313.7,254.6 L314.9,254.6 C322,245 331,236 335,231 C341,225 346,219 349.7,214.8 Z" fill="#9d9ea1" stroke="#555" stroke-width="0.6"/>
<!-- green mylohyoid -->
<path d="M235,268 C255,267 290,266 309,265 C305,275 300,285 292,292 C285,297 275,298 261,296 C252,290 243,280 235,268 Z" fill="#a2c55e" stroke="#4b4636" stroke-width="0.6"/>
<clipPath id="hc1"><path d="M235,268 C255,267 290,266 309,265 C305,275 300,285 292,292 C285,297 275,298 261,296 C252,290 243,280 235,268 Z"/></clipPath><g clip-path="url(#hc1)" fill="none" stroke="#3d5a1a" stroke-width="0.6" opacity="0.7" stroke-linecap="round"><path d="M315.5,270.1 Q315.3,291.8 303.5,310.1"/><path d="M310.8,268.7 Q310.6,290.4 298.8,308.7"/><path d="M305.1,266.9 Q304.9,288.7 293.1,306.9"/><path d="M300.7,265.6 Q300.5,287.3 288.7,305.6"/><path d="M294.7,263.8 Q294.5,285.5 282.7,303.8"/><path d="M290.0,262.4 Q289.8,284.1 278.0,302.4"/><path d="M284.0,260.6 Q283.7,282.3 272.0,300.6"/><path d="M280.0,259.4 Q279.8,281.1 268.0,299.4"/><path d="M273.6,257.5 Q273.3,279.2 261.6,297.5"/><path d="M269.3,256.2 Q269.0,277.9 257.3,296.2"/><path d="M263.5,254.4 Q263.2,276.2 251.5,294.4"/><path d="M258.3,252.9 Q258.0,274.6 246.3,292.9"/><path d="M253.6,251.5 Q253.3,273.2 241.6,291.5"/><path d="M247.2,249.6 Q247.0,271.3 235.2,289.6"/></g>
<!-- digastric anterior -->
<path d="M217,272 C225,269 232,268 235,268 C243,280 252,290 261,296 L262,308 L252,308 L214,278 Z" fill="#e6a398"/>
<clipPath id="hc3"><path d="M217,272 C225,269 232,268 235,268 C243,280 252,290 261,296 L262,308 L252,308 L214,278 Z"/></clipPath><g clip-path="url(#hc3)" fill="none" stroke="#6a3b36" stroke-width="0.6" opacity="0.5" stroke-linecap="round"><path d="M219.5,268.3 Q243.0,281.7 267.5,293.3"/><path d="M217.0,273.1 Q240.5,286.5 265.0,298.1"/><path d="M214.9,277.0 Q238.5,290.4 262.9,302.0"/><path d="M212.4,281.9 Q235.9,295.3 260.4,306.9"/></g>
<path d="M213,277 C211,281 212,287 215,291 C223,301 236,311 247.6,314.5 C254,313 259,310 262,306 L261,301.5 C245,293 228,284 213,277 Z" fill="#e9628a"/>
<clipPath id="hc2"><path d="M213,277 C211,281 212,287 215,291 C223,301 236,311 247.6,314.5 C254,313 259,310 262,306 L261,301.5 C245,293 228,284 213,277 Z"/></clipPath><g clip-path="url(#hc2)" fill="none" stroke="#6a2a3a" stroke-width="0.6" opacity="0.6" stroke-linecap="round"><path d="M215.3,274.9 Q240.8,287.8 267.3,298.9"/><path d="M213.2,279.5 Q238.7,292.4 265.2,303.5"/><path d="M211.2,283.7 Q236.8,296.6 263.2,307.7"/><path d="M209.0,288.5 Q234.6,301.5 261.0,312.5"/></g>
<path d="M213,277 C211,281 212,287 215,291 C223,301 236,311 247.6,314.5 C254,313 259,310 262,306" fill="none" stroke="#4b4636" stroke-width="0.6"/>
<!-- hyoid white -->
<path d="M252,316 C258,312 262,308 262,306 C272,305 282,305 292,305 L300,304 L292,312 L286,312 L272,316 L256,320 Z" fill="#e6e8ea"/><path d="M259,297.5 C270,297 283,294.5 293,293.5 L295,298 L291,301 C282,302 272,303 263,304 Z" fill="#fbfbfb" stroke="#8a8a8a" stroke-width="0.6"/>
<!-- cyan tendon -->
<path d="M287,310 L319,316" stroke="#4a8f94" stroke-width="4" stroke-linecap="round"/>
<path d="M287,310 L319,316" stroke="#8ae3ea" stroke-width="2.6" stroke-linecap="round"/>

<!-- clavicle band -->
<path d="M420,464 C432,466 444,466 447,468 C440,472 432,474 428,476 C424,474 422,470 420,464 Z" fill="#dccfcc"/>
<path d="M285,469.5 C300,462.5 330,460 373,460 C395,460 410,460 420,462 C432,464 441,465 446,467" fill="none" stroke="#cdcdce" stroke-width="5.6" stroke-linecap="round"/>
<path d="M285,469.5 C300,462.5 330,460 373,460 C395,460 410,460 420,462 C432,464 441,465 446,467" fill="none" stroke="#dfe0e1" stroke-width="3.6" stroke-linecap="round"/>
<path d="M423,468 C422,474 430,479 446,480 C470,481 495,480 508,481 C515,484 518,488 520,491" fill="none" stroke="#cdcdce" stroke-width="5.4" stroke-linecap="butt"/>
<path d="M423,468 C422,474 430,479 446,480 C470,481 495,480 508,481 C515,484 518,488 520,491" fill="none" stroke="#dfe0e1" stroke-width="3.4" stroke-linecap="butt"/>
<g fill="none" stroke="#6a3b36" stroke-width="0.6" opacity="0.6"><path d="M273.0,488.6 Q275.5,489.6 276.0,492"/><path d="M274.7,485.8 Q282.7,486.8 283.2,492"/><path d="M280.1,476.6 Q289.2,477.6 289.7,492"/><path d="M285.8,472.4 Q295.8,473.4 296.3,492"/><path d="M292.3,470.3 Q302.9,471.3 303.4,492"/><path d="M298.0,468.4 Q308.9,469.4 309.4,492"/><path d="M303.6,467.3 Q314.9,468.3 315.4,492"/><path d="M310.5,466.5 Q322.0,467.5 322.5,492"/><path d="M317.1,465.7 Q329.0,466.7 329.5,492"/><path d="M323.2,465.0 Q335.1,466.0 335.6,492"/><path d="M329.1,464.3 Q341.1,465.3 341.6,492"/><path d="M335.9,464.1 Q348.0,465.1 348.5,492"/><path d="M343.1,463.9 Q355.2,464.9 355.7,492"/><path d="M349.0,463.8 Q361.2,464.8 361.7,492"/><path d="M356.2,463.6 Q368.4,464.6 368.9,492"/><path d="M403.9,464.5 Q393.5,465.5 393.0,492"/><path d="M410.5,464.8 Q400.2,465.8 399.7,492"/><path d="M416.7,465.1 Q406.5,466.1 406.0,492"/><path d="M422.5,465.7 Q412.4,466.7 411.9,492"/><path d="M428.2,466.8 Q418.2,467.8 417.7,492"/><path d="M432.4,480.7 Q425.4,481.7 424.9,492"/><path d="M436.2,481.4 Q431.5,482.4 431.0,492"/><path d="M442.6,482.6 Q438.3,483.6 437.8,492"/><path d="M448.3,483.3 Q444.4,484.3 443.9,492"/><path d="M455.1,483.6 Q451.4,484.6 450.9,492"/><path d="M461.6,483.9 Q458.1,484.9 457.6,492"/><path d="M467.7,484.1 Q464.3,485.1 463.8,492"/><path d="M473.6,484.1 Q470.3,485.1 469.8,492"/><path d="M480.5,483.8 Q477.1,484.8 476.6,492"/><path d="M486.4,483.5 Q482.9,484.5 482.4,492"/><path d="M492.6,483.3 Q489.0,484.3 488.5,492"/><path d="M499.3,483.5 Q495.6,484.5 495.1,492"/><path d="M506.1,484.1 Q502.6,485.1 502.1,492"/><path d="M512.5,486.1 Q509.3,487.1 508.8,492"/></g>
<!-- sternum notch -->
<path d="M373,464.5 L391.6,464.5 L386.6,492 L376.7,492 Z" fill="#8e8e90"/>
</g>

<g fill="none" stroke="#262626" stroke-width="0.8" stroke-dasharray="1.8,0.9"><path d="M194.0,255.5 L206.0,256.0 L261.4,278.3"/><path d="M167.0,293.0 L180.0,293.0 L209.4,274.4"/><path d="M181.0,310.0 L197.0,310.0 L239.0,282.7"/><path d="M177.0,327.0 L224.0,327.0 L255.5,318.0"/><path d="M184.0,349.0 L227.0,349.0 L232.0,320.0 L235.3,299.8"/><path d="M210.0,362.0 L256.0,362.0 L261.0,320.0 L264.2,286.4"/><path d="M162.0,381.0 L244.0,380.0 L305.3,329.0"/><path d="M170.0,394.0 L234.0,393.0 L267.6,373.1"/><path d="M192.0,412.0 L220.0,412.0 L304.0,363.3"/><path d="M232.0,436.0 L252.0,435.0 L322.1,395.5"/><path d="M462.0,254.5 L454.5,254.5 L406.0,212.0"/><path d="M472.0,291.7 L442.0,292.0 L377.3,366.6"/><path d="M470.0,306.0 L445.0,306.0 L361.1,398.0"/><path d="M486.0,319.7 L456.0,319.7 L367.3,420.5"/><path d="M452.0,353.0 L444.0,353.0 L387.2,412.3"/><path d="M459.0,371.0 L449.0,371.0 L378.5,447.3"/><path d="M503.0,403.0 L487.0,403.0 L438.4,417.3"/><path d="M518.0,419.0 L489.4,418.5 L415.6,461.5"/></g><g fill="#111"><circle cx="261.4" cy="278.3" r="1.5"/><circle cx="209.4" cy="274.4" r="1.5"/><circle cx="239" cy="282.7" r="1.5"/><circle cx="255.5" cy="318" r="1.5"/><circle cx="235.3" cy="299.8" r="1.5"/><circle cx="264.2" cy="286.4" r="1.5"/><circle cx="305.3" cy="329" r="1.5"/><circle cx="267.6" cy="373.1" r="1.5"/><circle cx="304" cy="363.3" r="1.5"/><circle cx="322.1" cy="395.5" r="1.5"/><circle cx="406" cy="212" r="1.5"/><circle cx="377.3" cy="366.6" r="1.5"/><circle cx="361.1" cy="398" r="1.5"/><circle cx="367.3" cy="420.5" r="1.5"/><circle cx="387.2" cy="412.3" r="1.5"/><circle cx="378.5" cy="447.3" r="1.5"/><circle cx="438.4" cy="417.3" r="1.5"/><circle cx="415.6" cy="461.5" r="1.5"/></g>
<!-- labels -->
<g font-size="9.1" fill="#383838">
<text x="123.7" y="257.4">m. mylohyoideus</text>
<text x="123.7" y="296" fill="#6e6e6e">mandibula</text>
<text x="123.7" y="313">m. digastricus</text>
<text x="123.7" y="330" fill="#6e6e6e">os hyoideum</text>
<text x="123.7" y="415.5">m. omohyoideus</text>
<text x="123.7" y="439">m. sternocleidomastoideus</text>
<text x="464.2" y="257.5" fill="#6e6e6e">processus mastoideus</text>
<text x="473.7" y="294.7">m. scalenus medius</text>
<text x="472.5" y="309.2">m. scalenus anterior</text>
<text x="487.6" y="322.7">m. omohyoideus</text>
<text x="504.7" y="406">m. trapezius</text>
<text x="520" y="422" fill="#6e6e6e">clavicula</text>
</g>
<g font-size="7.6" fill="#383838">
<text x="123.7" y="423">(venter superior)</text>
<text x="503.3" y="331.3">(venter inferior)</text>
</g>
<g font-size="11" fill="#dc3441" stroke="#dc3441" stroke-width="0.2">
<text x="89.1" y="352">Submental triangle</text>
<text x="95.7" y="365.4">Submandibular triangle</text>
<text x="87" y="381.3">Carotid triangle</text>
<text x="86.5" y="394.3">Muscular triangle</text>
<text x="453" y="355">Ocipital triangle</text>
<text x="459.7" y="374.5">Subclavian triangle</text>
</g>
<text font-size="13.4" fill="#dc3441" stroke="#dc3441" stroke-width="0.2" transform="translate(79,417) rotate(-90)">Anterior triangle</text>
<text font-size="13" fill="#dc3441" stroke="#dc3441" stroke-width="0.2" transform="translate(563,311) rotate(90)">Posterior triangle</text>
</svg>
</body></html>
